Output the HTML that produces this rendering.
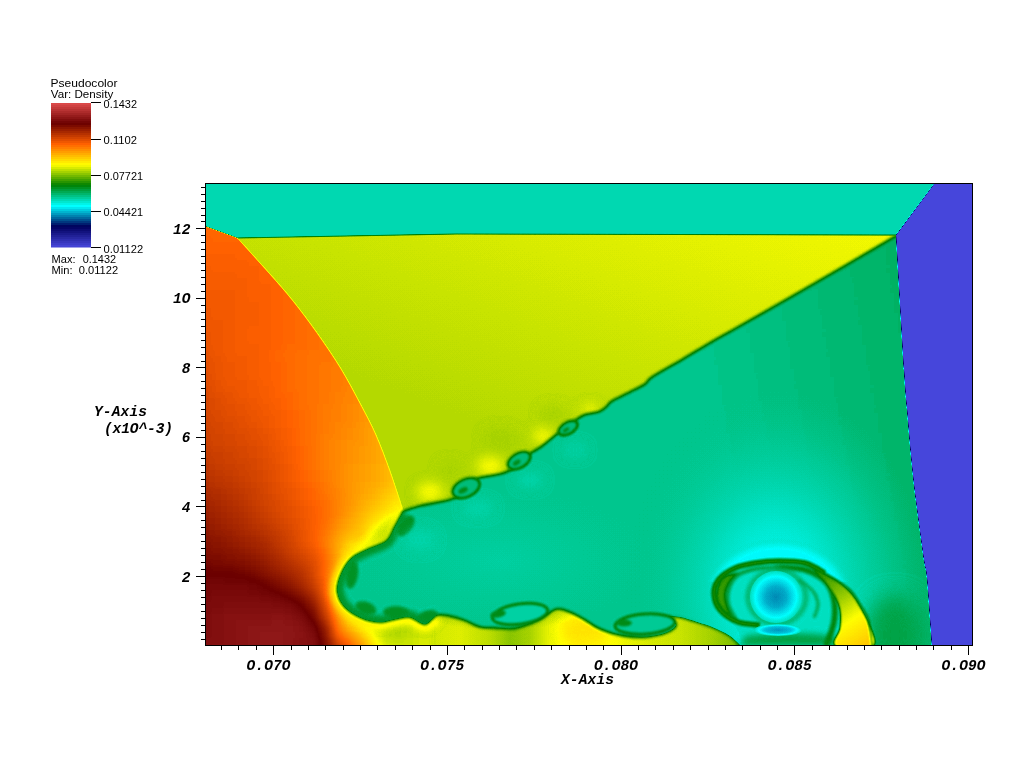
<!DOCTYPE html><html><head><meta charset="utf-8"><style>html,body{margin:0;padding:0;background:#fff;width:1024px;height:760px;overflow:hidden}svg{display:block}</style></head><body>
<svg width="1024" height="760" viewBox="0 0 1024 760">
<defs>
<linearGradient id="cbar" x1="0" y1="0" x2="0" y2="1"><stop offset="0.0000" stop-color="#da4949"/><stop offset="0.0139" stop-color="#da4949"/><stop offset="0.0139" stop-color="#cf4242"/><stop offset="0.0278" stop-color="#cf4242"/><stop offset="0.0278" stop-color="#c43a3a"/><stop offset="0.0417" stop-color="#c43a3a"/><stop offset="0.0417" stop-color="#b83333"/><stop offset="0.0556" stop-color="#b83333"/><stop offset="0.0556" stop-color="#ad2b2b"/><stop offset="0.0694" stop-color="#ad2b2b"/><stop offset="0.0694" stop-color="#a22424"/><stop offset="0.0833" stop-color="#a22424"/><stop offset="0.0833" stop-color="#961c1c"/><stop offset="0.0972" stop-color="#961c1c"/><stop offset="0.0972" stop-color="#8b1515"/><stop offset="0.1111" stop-color="#8b1515"/><stop offset="0.1111" stop-color="#7f0d0d"/><stop offset="0.1250" stop-color="#7f0d0d"/><stop offset="0.1250" stop-color="#740606"/><stop offset="0.1389" stop-color="#740606"/><stop offset="0.1389" stop-color="#6e0200"/><stop offset="0.1528" stop-color="#6e0200"/><stop offset="0.1528" stop-color="#7c0b00"/><stop offset="0.1667" stop-color="#7c0b00"/><stop offset="0.1667" stop-color="#8b1500"/><stop offset="0.1806" stop-color="#8b1500"/><stop offset="0.1806" stop-color="#991e00"/><stop offset="0.1944" stop-color="#991e00"/><stop offset="0.1944" stop-color="#a72800"/><stop offset="0.2083" stop-color="#a72800"/><stop offset="0.2083" stop-color="#b63100"/><stop offset="0.2222" stop-color="#b63100"/><stop offset="0.2222" stop-color="#c43a00"/><stop offset="0.2361" stop-color="#c43a00"/><stop offset="0.2361" stop-color="#d34400"/><stop offset="0.2500" stop-color="#d34400"/><stop offset="0.2500" stop-color="#e14d00"/><stop offset="0.2639" stop-color="#e14d00"/><stop offset="0.2639" stop-color="#ef5700"/><stop offset="0.2778" stop-color="#ef5700"/><stop offset="0.2778" stop-color="#fe6000"/><stop offset="0.2917" stop-color="#fe6000"/><stop offset="0.2917" stop-color="#ff6f00"/><stop offset="0.3056" stop-color="#ff6f00"/><stop offset="0.3056" stop-color="#ff7e00"/><stop offset="0.3194" stop-color="#ff7e00"/><stop offset="0.3194" stop-color="#ff8e00"/><stop offset="0.3333" stop-color="#ff8e00"/><stop offset="0.3333" stop-color="#ff9d00"/><stop offset="0.3472" stop-color="#ff9d00"/><stop offset="0.3472" stop-color="#ffac00"/><stop offset="0.3611" stop-color="#ffac00"/><stop offset="0.3611" stop-color="#ffbc00"/><stop offset="0.3750" stop-color="#ffbc00"/><stop offset="0.3750" stop-color="#ffcb00"/><stop offset="0.3889" stop-color="#ffcb00"/><stop offset="0.3889" stop-color="#ffda00"/><stop offset="0.4028" stop-color="#ffda00"/><stop offset="0.4028" stop-color="#ffea00"/><stop offset="0.4167" stop-color="#ffea00"/><stop offset="0.4167" stop-color="#fff900"/><stop offset="0.4306" stop-color="#fff900"/><stop offset="0.4306" stop-color="#f0f700"/><stop offset="0.4444" stop-color="#f0f700"/><stop offset="0.4444" stop-color="#d7eb00"/><stop offset="0.4583" stop-color="#d7eb00"/><stop offset="0.4583" stop-color="#bedf00"/><stop offset="0.4722" stop-color="#bedf00"/><stop offset="0.4722" stop-color="#a5d200"/><stop offset="0.4861" stop-color="#a5d200"/><stop offset="0.4861" stop-color="#8cc600"/><stop offset="0.5000" stop-color="#8cc600"/><stop offset="0.5000" stop-color="#73b900"/><stop offset="0.5139" stop-color="#73b900"/><stop offset="0.5139" stop-color="#5aad00"/><stop offset="0.5278" stop-color="#5aad00"/><stop offset="0.5278" stop-color="#41a000"/><stop offset="0.5417" stop-color="#41a000"/><stop offset="0.5417" stop-color="#289400"/><stop offset="0.5556" stop-color="#289400"/><stop offset="0.5556" stop-color="#0f8800"/><stop offset="0.5694" stop-color="#0f8800"/><stop offset="0.5694" stop-color="#00850a"/><stop offset="0.5833" stop-color="#00850a"/><stop offset="0.5833" stop-color="#009122"/><stop offset="0.5972" stop-color="#009122"/><stop offset="0.5972" stop-color="#009d3b"/><stop offset="0.6111" stop-color="#009d3b"/><stop offset="0.6111" stop-color="#00aa53"/><stop offset="0.6250" stop-color="#00aa53"/><stop offset="0.6250" stop-color="#00b66c"/><stop offset="0.6389" stop-color="#00b66c"/><stop offset="0.6389" stop-color="#00c285"/><stop offset="0.6528" stop-color="#00c285"/><stop offset="0.6528" stop-color="#00ce9d"/><stop offset="0.6667" stop-color="#00ce9d"/><stop offset="0.6667" stop-color="#00dab6"/><stop offset="0.6806" stop-color="#00dab6"/><stop offset="0.6806" stop-color="#00e7ce"/><stop offset="0.6944" stop-color="#00e7ce"/><stop offset="0.6944" stop-color="#00f3e7"/><stop offset="0.7083" stop-color="#00f3e7"/><stop offset="0.7083" stop-color="#00ffff"/><stop offset="0.7222" stop-color="#00ffff"/><stop offset="0.7222" stop-color="#00e6ef"/><stop offset="0.7361" stop-color="#00e6ef"/><stop offset="0.7361" stop-color="#00cddf"/><stop offset="0.7500" stop-color="#00cddf"/><stop offset="0.7500" stop-color="#00b4cf"/><stop offset="0.7639" stop-color="#00b4cf"/><stop offset="0.7639" stop-color="#009bbf"/><stop offset="0.7778" stop-color="#009bbf"/><stop offset="0.7778" stop-color="#0082af"/><stop offset="0.7917" stop-color="#0082af"/><stop offset="0.7917" stop-color="#00699f"/><stop offset="0.8056" stop-color="#00699f"/><stop offset="0.8056" stop-color="#00508f"/><stop offset="0.8194" stop-color="#00508f"/><stop offset="0.8194" stop-color="#00377f"/><stop offset="0.8333" stop-color="#00377f"/><stop offset="0.8333" stop-color="#001e6f"/><stop offset="0.8472" stop-color="#001e6f"/><stop offset="0.8472" stop-color="#00055f"/><stop offset="0.8611" stop-color="#00055f"/><stop offset="0.8611" stop-color="#050566"/><stop offset="0.8750" stop-color="#050566"/><stop offset="0.8750" stop-color="#0c0c72"/><stop offset="0.8889" stop-color="#0c0c72"/><stop offset="0.8889" stop-color="#13137e"/><stop offset="0.9028" stop-color="#13137e"/><stop offset="0.9028" stop-color="#1a1a8b"/><stop offset="0.9167" stop-color="#1a1a8b"/><stop offset="0.9167" stop-color="#212197"/><stop offset="0.9306" stop-color="#212197"/><stop offset="0.9306" stop-color="#2828a3"/><stop offset="0.9444" stop-color="#2828a3"/><stop offset="0.9444" stop-color="#2f2fb0"/><stop offset="0.9583" stop-color="#2f2fb0"/><stop offset="0.9583" stop-color="#3636bc"/><stop offset="0.9722" stop-color="#3636bc"/><stop offset="0.9722" stop-color="#3d3dc8"/><stop offset="0.9861" stop-color="#3d3dc8"/><stop offset="0.9861" stop-color="#4444d5"/><stop offset="1.0000" stop-color="#4444d5"/></linearGradient>
<clipPath id="plot"><rect x="206" y="184" width="766" height="461"/></clipPath>
<filter id="b05" color-interpolation-filters="sRGB" x="-50%" y="-50%" width="200%" height="200%"><feGaussianBlur stdDeviation="0.5"/></filter>
<filter id="b1" color-interpolation-filters="sRGB" x="-50%" y="-50%" width="200%" height="200%"><feGaussianBlur stdDeviation="1"/></filter>
<filter id="b15" color-interpolation-filters="sRGB" x="-50%" y="-50%" width="200%" height="200%"><feGaussianBlur stdDeviation="1.5"/></filter>
<filter id="b2" color-interpolation-filters="sRGB" x="-50%" y="-50%" width="200%" height="200%"><feGaussianBlur stdDeviation="2"/></filter>
<filter id="b3" color-interpolation-filters="sRGB" x="-50%" y="-50%" width="200%" height="200%"><feGaussianBlur stdDeviation="3"/></filter>
<filter id="b4" color-interpolation-filters="sRGB" x="-50%" y="-50%" width="200%" height="200%"><feGaussianBlur stdDeviation="4"/></filter>
<filter id="b6" color-interpolation-filters="sRGB" x="-50%" y="-50%" width="200%" height="200%"><feGaussianBlur stdDeviation="6"/></filter>
<filter id="b10" color-interpolation-filters="sRGB" x="-50%" y="-50%" width="200%" height="200%"><feGaussianBlur stdDeviation="10"/></filter>
<filter id="cm" color-interpolation-filters="sRGB" x="0" y="0" width="1024" height="760" filterUnits="userSpaceOnUse"><feComponentTransfer><feFuncR type="table" tableValues="0.278431 0 0 0 1 1 0.419608 0.878431"/><feFuncG type="table" tableValues="0.278431 0 1 0.501961 1 0.380392 0 0.301961"/><feFuncB type="table" tableValues="0.858824 0.360784 1 0 0 0 0 0.301961"/></feComponentTransfer></filter>
<linearGradient id="gy" gradientUnits="userSpaceOnUse" x1="482.5" y1="425.1" x2="614.1" y2="86.3"><stop offset="0" stop-color="#878787"/><stop offset="1" stop-color="#919191"/></linearGradient>
<linearGradient id="gg" gradientUnits="userSpaceOnUse" x1="910" y1="340" x2="690" y2="380"><stop offset="0" stop-color="#5f5f5f"/><stop offset="1" stop-color="#595959"/></linearGradient>
<radialGradient id="ghalo" gradientUnits="userSpaceOnUse" cx="0" cy="0" r="1" gradientTransform="translate(776 590) rotate(0) scale(150 200)"><stop offset="0" stop-color="#4a4a4a" stop-opacity="1"/><stop offset="0.3" stop-color="#4f4f4f" stop-opacity="1"/><stop offset="0.5" stop-color="#545454" stop-opacity="1"/><stop offset="0.7" stop-color="#575757" stop-opacity="0.8"/><stop offset="0.9" stop-color="#595959" stop-opacity="0.3"/><stop offset="1" stop-color="#5a5a5a" stop-opacity="0"/></radialGradient>
<radialGradient id="gdome" gradientUnits="userSpaceOnUse" cx="0" cy="0" r="1" gradientTransform="translate(778 598) rotate(0) scale(76 60)"><stop offset="0" stop-color="#484848" stop-opacity="1"/><stop offset="0.8" stop-color="#484848" stop-opacity="1"/><stop offset="0.88" stop-color="#4b4b4b" stop-opacity="0.7"/><stop offset="0.95" stop-color="#505050" stop-opacity="0.3"/><stop offset="1" stop-color="#545454" stop-opacity="0"/></radialGradient>
<radialGradient id="gblob" gradientUnits="userSpaceOnUse" cx="0" cy="0" r="1" gradientTransform="translate(500 560) rotate(0) scale(150 70)"><stop offset="0" stop-color="#565656" stop-opacity="0.9"/><stop offset="1" stop-color="#575757" stop-opacity="0"/></radialGradient>
<radialGradient id="gcore" gradientUnits="userSpaceOnUse" cx="0" cy="0" r="1" gradientTransform="translate(776 597) rotate(0) scale(26 26)"><stop offset="0" stop-color="#383838"/><stop offset="0.4" stop-color="#3d3d3d"/><stop offset="0.7" stop-color="#464646"/><stop offset="0.8" stop-color="#494949"/><stop offset="0.9" stop-color="#4e4e4e"/><stop offset="1" stop-color="#525252"/></radialGradient>
<radialGradient id="glens" gradientUnits="userSpaceOnUse" cx="0" cy="0" r="1" gradientTransform="translate(778 630) rotate(0) scale(24 6)"><stop offset="0" stop-color="#3a3a3a"/><stop offset="0.55" stop-color="#404040"/><stop offset="0.8" stop-color="#494949"/><stop offset="1" stop-color="#545454"/></radialGradient>
<linearGradient id="gcres" gradientUnits="userSpaceOnUse" x1="825" y1="578" x2="868" y2="642"><stop offset="0" stop-color="#767676"/><stop offset="0.35" stop-color="#848484"/><stop offset="0.65" stop-color="#929292"/><stop offset="1" stop-color="#9e9e9e"/></linearGradient>
<linearGradient id="gbot" gradientUnits="userSpaceOnUse" x1="360" y1="0" x2="740" y2="0"><stop offset="0" stop-color="#969696"/><stop offset="0.053" stop-color="#929292"/><stop offset="0.105" stop-color="#8d8d8d"/><stop offset="0.184" stop-color="#8b8b8b"/><stop offset="0.263" stop-color="#8d8d8d"/><stop offset="0.342" stop-color="#888888"/><stop offset="0.395" stop-color="#818181"/><stop offset="0.447" stop-color="#858585"/><stop offset="0.5" stop-color="#8f8f8f"/><stop offset="0.566" stop-color="#969696"/><stop offset="0.632" stop-color="#959595"/><stop offset="0.697" stop-color="#8f8f8f"/><stop offset="0.763" stop-color="#8c8c8c"/><stop offset="0.842" stop-color="#8a8a8a"/><stop offset="0.921" stop-color="#858585"/><stop offset="1" stop-color="#7e7e7e"/></linearGradient>
<linearGradient id="o0" gradientUnits="userSpaceOnUse" x1="206" x2="432" y1="0" y2="0"><stop offset="0.000" stop-color="#b5b5b5"/><stop offset="0.053" stop-color="#b5b5b5"/><stop offset="0.106" stop-color="#b5b5b5"/><stop offset="0.159" stop-color="#b5b5b5"/><stop offset="0.212" stop-color="#b5b5b5"/><stop offset="0.265" stop-color="#b4b4b4"/><stop offset="0.319" stop-color="#b4b4b4"/><stop offset="0.372" stop-color="#b4b4b4"/><stop offset="0.425" stop-color="#b3b3b3"/><stop offset="0.478" stop-color="#b2b2b2"/><stop offset="0.531" stop-color="#b1b1b1"/><stop offset="0.584" stop-color="#b0b0b0"/><stop offset="0.637" stop-color="#afafaf"/><stop offset="0.690" stop-color="#adadad"/><stop offset="0.743" stop-color="#ababab"/><stop offset="0.796" stop-color="#aaaaaa"/><stop offset="0.850" stop-color="#a8a8a8"/><stop offset="0.903" stop-color="#a6a6a6"/><stop offset="0.956" stop-color="#a4a4a4"/></linearGradient>
<linearGradient id="o1" gradientUnits="userSpaceOnUse" x1="206" x2="432" y1="0" y2="0"><stop offset="0.000" stop-color="#b5b5b5"/><stop offset="0.053" stop-color="#b5b5b5"/><stop offset="0.106" stop-color="#b5b5b5"/><stop offset="0.159" stop-color="#b5b5b5"/><stop offset="0.212" stop-color="#b5b5b5"/><stop offset="0.265" stop-color="#b5b5b5"/><stop offset="0.319" stop-color="#b5b5b5"/><stop offset="0.372" stop-color="#b4b4b4"/><stop offset="0.425" stop-color="#b4b4b4"/><stop offset="0.478" stop-color="#b3b3b3"/><stop offset="0.531" stop-color="#b2b2b2"/><stop offset="0.584" stop-color="#b0b0b0"/><stop offset="0.637" stop-color="#afafaf"/><stop offset="0.690" stop-color="#adadad"/><stop offset="0.743" stop-color="#acacac"/><stop offset="0.796" stop-color="#aaaaaa"/><stop offset="0.850" stop-color="#a8a8a8"/><stop offset="0.903" stop-color="#a6a6a6"/><stop offset="0.956" stop-color="#a4a4a4"/></linearGradient>
<linearGradient id="o2" gradientUnits="userSpaceOnUse" x1="206" x2="432" y1="0" y2="0"><stop offset="0.000" stop-color="#b6b6b6"/><stop offset="0.053" stop-color="#b5b5b5"/><stop offset="0.106" stop-color="#b5b5b5"/><stop offset="0.159" stop-color="#b5b5b5"/><stop offset="0.212" stop-color="#b5b5b5"/><stop offset="0.265" stop-color="#b5b5b5"/><stop offset="0.319" stop-color="#b5b5b5"/><stop offset="0.372" stop-color="#b4b4b4"/><stop offset="0.425" stop-color="#b4b4b4"/><stop offset="0.478" stop-color="#b3b3b3"/><stop offset="0.531" stop-color="#b2b2b2"/><stop offset="0.584" stop-color="#b0b0b0"/><stop offset="0.637" stop-color="#afafaf"/><stop offset="0.690" stop-color="#adadad"/><stop offset="0.743" stop-color="#acacac"/><stop offset="0.796" stop-color="#aaaaaa"/><stop offset="0.850" stop-color="#a8a8a8"/><stop offset="0.903" stop-color="#a6a6a6"/><stop offset="0.956" stop-color="#a4a4a4"/></linearGradient>
<linearGradient id="o3" gradientUnits="userSpaceOnUse" x1="206" x2="432" y1="0" y2="0"><stop offset="0.000" stop-color="#b6b6b6"/><stop offset="0.053" stop-color="#b6b6b6"/><stop offset="0.106" stop-color="#b6b6b6"/><stop offset="0.159" stop-color="#b6b6b6"/><stop offset="0.212" stop-color="#b6b6b6"/><stop offset="0.265" stop-color="#b5b5b5"/><stop offset="0.319" stop-color="#b5b5b5"/><stop offset="0.372" stop-color="#b5b5b5"/><stop offset="0.425" stop-color="#b4b4b4"/><stop offset="0.478" stop-color="#b3b3b3"/><stop offset="0.531" stop-color="#b2b2b2"/><stop offset="0.584" stop-color="#b1b1b1"/><stop offset="0.637" stop-color="#afafaf"/><stop offset="0.690" stop-color="#aeaeae"/><stop offset="0.743" stop-color="#acacac"/><stop offset="0.796" stop-color="#aaaaaa"/><stop offset="0.850" stop-color="#a8a8a8"/><stop offset="0.903" stop-color="#a6a6a6"/><stop offset="0.956" stop-color="#a4a4a4"/></linearGradient>
<linearGradient id="o4" gradientUnits="userSpaceOnUse" x1="206" x2="432" y1="0" y2="0"><stop offset="0.000" stop-color="#b6b6b6"/><stop offset="0.053" stop-color="#b6b6b6"/><stop offset="0.106" stop-color="#b6b6b6"/><stop offset="0.159" stop-color="#b6b6b6"/><stop offset="0.212" stop-color="#b6b6b6"/><stop offset="0.265" stop-color="#b6b6b6"/><stop offset="0.319" stop-color="#b5b5b5"/><stop offset="0.372" stop-color="#b5b5b5"/><stop offset="0.425" stop-color="#b4b4b4"/><stop offset="0.478" stop-color="#b3b3b3"/><stop offset="0.531" stop-color="#b2b2b2"/><stop offset="0.584" stop-color="#b1b1b1"/><stop offset="0.637" stop-color="#afafaf"/><stop offset="0.690" stop-color="#aeaeae"/><stop offset="0.743" stop-color="#acacac"/><stop offset="0.796" stop-color="#aaaaaa"/><stop offset="0.850" stop-color="#a8a8a8"/><stop offset="0.903" stop-color="#a6a6a6"/><stop offset="0.956" stop-color="#a4a4a4"/></linearGradient>
<linearGradient id="o5" gradientUnits="userSpaceOnUse" x1="206" x2="432" y1="0" y2="0"><stop offset="0.000" stop-color="#b7b7b7"/><stop offset="0.053" stop-color="#b7b7b7"/><stop offset="0.106" stop-color="#b7b7b7"/><stop offset="0.159" stop-color="#b6b6b6"/><stop offset="0.212" stop-color="#b6b6b6"/><stop offset="0.265" stop-color="#b6b6b6"/><stop offset="0.319" stop-color="#b5b5b5"/><stop offset="0.372" stop-color="#b5b5b5"/><stop offset="0.425" stop-color="#b4b4b4"/><stop offset="0.478" stop-color="#b3b3b3"/><stop offset="0.531" stop-color="#b2b2b2"/><stop offset="0.584" stop-color="#b1b1b1"/><stop offset="0.637" stop-color="#b0b0b0"/><stop offset="0.690" stop-color="#aeaeae"/><stop offset="0.743" stop-color="#acacac"/><stop offset="0.796" stop-color="#aaaaaa"/><stop offset="0.850" stop-color="#a9a9a9"/><stop offset="0.903" stop-color="#a6a6a6"/><stop offset="0.956" stop-color="#a4a4a4"/></linearGradient>
<linearGradient id="o6" gradientUnits="userSpaceOnUse" x1="206" x2="432" y1="0" y2="0"><stop offset="0.000" stop-color="#b7b7b7"/><stop offset="0.053" stop-color="#b7b7b7"/><stop offset="0.106" stop-color="#b7b7b7"/><stop offset="0.159" stop-color="#b7b7b7"/><stop offset="0.212" stop-color="#b6b6b6"/><stop offset="0.265" stop-color="#b6b6b6"/><stop offset="0.319" stop-color="#b6b6b6"/><stop offset="0.372" stop-color="#b5b5b5"/><stop offset="0.425" stop-color="#b4b4b4"/><stop offset="0.478" stop-color="#b3b3b3"/><stop offset="0.531" stop-color="#b2b2b2"/><stop offset="0.584" stop-color="#b1b1b1"/><stop offset="0.637" stop-color="#b0b0b0"/><stop offset="0.690" stop-color="#aeaeae"/><stop offset="0.743" stop-color="#acacac"/><stop offset="0.796" stop-color="#ababab"/><stop offset="0.850" stop-color="#a9a9a9"/><stop offset="0.903" stop-color="#a6a6a6"/><stop offset="0.956" stop-color="#a4a4a4"/></linearGradient>
<linearGradient id="o7" gradientUnits="userSpaceOnUse" x1="206" x2="432" y1="0" y2="0"><stop offset="0.000" stop-color="#b8b8b8"/><stop offset="0.053" stop-color="#b7b7b7"/><stop offset="0.106" stop-color="#b7b7b7"/><stop offset="0.159" stop-color="#b7b7b7"/><stop offset="0.212" stop-color="#b7b7b7"/><stop offset="0.265" stop-color="#b6b6b6"/><stop offset="0.319" stop-color="#b6b6b6"/><stop offset="0.372" stop-color="#b5b5b5"/><stop offset="0.425" stop-color="#b4b4b4"/><stop offset="0.478" stop-color="#b3b3b3"/><stop offset="0.531" stop-color="#b2b2b2"/><stop offset="0.584" stop-color="#b1b1b1"/><stop offset="0.637" stop-color="#b0b0b0"/><stop offset="0.690" stop-color="#aeaeae"/><stop offset="0.743" stop-color="#adadad"/><stop offset="0.796" stop-color="#ababab"/><stop offset="0.850" stop-color="#a9a9a9"/><stop offset="0.903" stop-color="#a7a7a7"/><stop offset="0.956" stop-color="#a4a4a4"/></linearGradient>
<linearGradient id="o8" gradientUnits="userSpaceOnUse" x1="206" x2="432" y1="0" y2="0"><stop offset="0.000" stop-color="#b8b8b8"/><stop offset="0.053" stop-color="#b8b8b8"/><stop offset="0.106" stop-color="#b8b8b8"/><stop offset="0.159" stop-color="#b7b7b7"/><stop offset="0.212" stop-color="#b7b7b7"/><stop offset="0.265" stop-color="#b6b6b6"/><stop offset="0.319" stop-color="#b6b6b6"/><stop offset="0.372" stop-color="#b5b5b5"/><stop offset="0.425" stop-color="#b4b4b4"/><stop offset="0.478" stop-color="#b3b3b3"/><stop offset="0.531" stop-color="#b2b2b2"/><stop offset="0.584" stop-color="#b1b1b1"/><stop offset="0.637" stop-color="#b0b0b0"/><stop offset="0.690" stop-color="#aeaeae"/><stop offset="0.743" stop-color="#adadad"/><stop offset="0.796" stop-color="#ababab"/><stop offset="0.850" stop-color="#a9a9a9"/><stop offset="0.903" stop-color="#a7a7a7"/><stop offset="0.956" stop-color="#a4a4a4"/></linearGradient>
<linearGradient id="o9" gradientUnits="userSpaceOnUse" x1="206" x2="432" y1="0" y2="0"><stop offset="0.000" stop-color="#b8b8b8"/><stop offset="0.053" stop-color="#b8b8b8"/><stop offset="0.106" stop-color="#b8b8b8"/><stop offset="0.159" stop-color="#b8b8b8"/><stop offset="0.212" stop-color="#b7b7b7"/><stop offset="0.265" stop-color="#b6b6b6"/><stop offset="0.319" stop-color="#b6b6b6"/><stop offset="0.372" stop-color="#b5b5b5"/><stop offset="0.425" stop-color="#b4b4b4"/><stop offset="0.478" stop-color="#b3b3b3"/><stop offset="0.531" stop-color="#b2b2b2"/><stop offset="0.584" stop-color="#b1b1b1"/><stop offset="0.637" stop-color="#b0b0b0"/><stop offset="0.690" stop-color="#aeaeae"/><stop offset="0.743" stop-color="#adadad"/><stop offset="0.796" stop-color="#ababab"/><stop offset="0.850" stop-color="#a9a9a9"/><stop offset="0.903" stop-color="#a7a7a7"/><stop offset="0.956" stop-color="#a4a4a4"/></linearGradient>
<linearGradient id="o10" gradientUnits="userSpaceOnUse" x1="206" x2="432" y1="0" y2="0"><stop offset="0.000" stop-color="#b8b8b8"/><stop offset="0.053" stop-color="#b8b8b8"/><stop offset="0.106" stop-color="#b8b8b8"/><stop offset="0.159" stop-color="#b8b8b8"/><stop offset="0.212" stop-color="#b7b7b7"/><stop offset="0.265" stop-color="#b7b7b7"/><stop offset="0.319" stop-color="#b6b6b6"/><stop offset="0.372" stop-color="#b5b5b5"/><stop offset="0.425" stop-color="#b4b4b4"/><stop offset="0.478" stop-color="#b3b3b3"/><stop offset="0.531" stop-color="#b2b2b2"/><stop offset="0.584" stop-color="#b1b1b1"/><stop offset="0.637" stop-color="#b0b0b0"/><stop offset="0.690" stop-color="#afafaf"/><stop offset="0.743" stop-color="#adadad"/><stop offset="0.796" stop-color="#ababab"/><stop offset="0.850" stop-color="#a9a9a9"/><stop offset="0.903" stop-color="#a7a7a7"/><stop offset="0.956" stop-color="#a4a4a4"/></linearGradient>
<linearGradient id="o11" gradientUnits="userSpaceOnUse" x1="206" x2="432" y1="0" y2="0"><stop offset="0.000" stop-color="#b9b9b9"/><stop offset="0.053" stop-color="#b9b9b9"/><stop offset="0.106" stop-color="#b9b9b9"/><stop offset="0.159" stop-color="#b8b8b8"/><stop offset="0.212" stop-color="#b7b7b7"/><stop offset="0.265" stop-color="#b7b7b7"/><stop offset="0.319" stop-color="#b6b6b6"/><stop offset="0.372" stop-color="#b5b5b5"/><stop offset="0.425" stop-color="#b4b4b4"/><stop offset="0.478" stop-color="#b3b3b3"/><stop offset="0.531" stop-color="#b2b2b2"/><stop offset="0.584" stop-color="#b1b1b1"/><stop offset="0.637" stop-color="#b0b0b0"/><stop offset="0.690" stop-color="#afafaf"/><stop offset="0.743" stop-color="#adadad"/><stop offset="0.796" stop-color="#ababab"/><stop offset="0.850" stop-color="#a9a9a9"/><stop offset="0.903" stop-color="#a7a7a7"/><stop offset="0.956" stop-color="#a4a4a4"/></linearGradient>
<linearGradient id="o12" gradientUnits="userSpaceOnUse" x1="206" x2="432" y1="0" y2="0"><stop offset="0.000" stop-color="#b9b9b9"/><stop offset="0.053" stop-color="#b9b9b9"/><stop offset="0.106" stop-color="#b9b9b9"/><stop offset="0.159" stop-color="#b8b8b8"/><stop offset="0.212" stop-color="#b7b7b7"/><stop offset="0.265" stop-color="#b7b7b7"/><stop offset="0.319" stop-color="#b6b6b6"/><stop offset="0.372" stop-color="#b5b5b5"/><stop offset="0.425" stop-color="#b4b4b4"/><stop offset="0.478" stop-color="#b3b3b3"/><stop offset="0.531" stop-color="#b2b2b2"/><stop offset="0.584" stop-color="#b1b1b1"/><stop offset="0.637" stop-color="#b0b0b0"/><stop offset="0.690" stop-color="#afafaf"/><stop offset="0.743" stop-color="#adadad"/><stop offset="0.796" stop-color="#ababab"/><stop offset="0.850" stop-color="#a9a9a9"/><stop offset="0.903" stop-color="#a7a7a7"/><stop offset="0.956" stop-color="#a4a4a4"/></linearGradient>
<linearGradient id="o13" gradientUnits="userSpaceOnUse" x1="206" x2="432" y1="0" y2="0"><stop offset="0.000" stop-color="#b9b9b9"/><stop offset="0.053" stop-color="#b9b9b9"/><stop offset="0.106" stop-color="#b9b9b9"/><stop offset="0.159" stop-color="#b8b8b8"/><stop offset="0.212" stop-color="#b8b8b8"/><stop offset="0.265" stop-color="#b7b7b7"/><stop offset="0.319" stop-color="#b6b6b6"/><stop offset="0.372" stop-color="#b5b5b5"/><stop offset="0.425" stop-color="#b4b4b4"/><stop offset="0.478" stop-color="#b3b3b3"/><stop offset="0.531" stop-color="#b2b2b2"/><stop offset="0.584" stop-color="#b1b1b1"/><stop offset="0.637" stop-color="#b0b0b0"/><stop offset="0.690" stop-color="#afafaf"/><stop offset="0.743" stop-color="#adadad"/><stop offset="0.796" stop-color="#ababab"/><stop offset="0.850" stop-color="#a9a9a9"/><stop offset="0.903" stop-color="#a6a6a6"/><stop offset="0.956" stop-color="#a4a4a4"/></linearGradient>
<linearGradient id="o14" gradientUnits="userSpaceOnUse" x1="206" x2="432" y1="0" y2="0"><stop offset="0.000" stop-color="#bababa"/><stop offset="0.053" stop-color="#b9b9b9"/><stop offset="0.106" stop-color="#b9b9b9"/><stop offset="0.159" stop-color="#b8b8b8"/><stop offset="0.212" stop-color="#b8b8b8"/><stop offset="0.265" stop-color="#b7b7b7"/><stop offset="0.319" stop-color="#b6b6b6"/><stop offset="0.372" stop-color="#b5b5b5"/><stop offset="0.425" stop-color="#b4b4b4"/><stop offset="0.478" stop-color="#b3b3b3"/><stop offset="0.531" stop-color="#b2b2b2"/><stop offset="0.584" stop-color="#b1b1b1"/><stop offset="0.637" stop-color="#b0b0b0"/><stop offset="0.690" stop-color="#afafaf"/><stop offset="0.743" stop-color="#adadad"/><stop offset="0.796" stop-color="#ababab"/><stop offset="0.850" stop-color="#a9a9a9"/><stop offset="0.903" stop-color="#a6a6a6"/><stop offset="0.956" stop-color="#a4a4a4"/></linearGradient>
<linearGradient id="o15" gradientUnits="userSpaceOnUse" x1="206" x2="432" y1="0" y2="0"><stop offset="0.000" stop-color="#bababa"/><stop offset="0.053" stop-color="#b9b9b9"/><stop offset="0.106" stop-color="#b9b9b9"/><stop offset="0.159" stop-color="#b8b8b8"/><stop offset="0.212" stop-color="#b8b8b8"/><stop offset="0.265" stop-color="#b7b7b7"/><stop offset="0.319" stop-color="#b6b6b6"/><stop offset="0.372" stop-color="#b5b5b5"/><stop offset="0.425" stop-color="#b4b4b4"/><stop offset="0.478" stop-color="#b3b3b3"/><stop offset="0.531" stop-color="#b2b2b2"/><stop offset="0.584" stop-color="#b1b1b1"/><stop offset="0.637" stop-color="#b0b0b0"/><stop offset="0.690" stop-color="#afafaf"/><stop offset="0.743" stop-color="#adadad"/><stop offset="0.796" stop-color="#ababab"/><stop offset="0.850" stop-color="#a9a9a9"/><stop offset="0.903" stop-color="#a6a6a6"/><stop offset="0.956" stop-color="#a4a4a4"/></linearGradient>
<linearGradient id="o16" gradientUnits="userSpaceOnUse" x1="206" x2="432" y1="0" y2="0"><stop offset="0.000" stop-color="#bababa"/><stop offset="0.053" stop-color="#bababa"/><stop offset="0.106" stop-color="#b9b9b9"/><stop offset="0.159" stop-color="#b8b8b8"/><stop offset="0.212" stop-color="#b8b8b8"/><stop offset="0.265" stop-color="#b7b7b7"/><stop offset="0.319" stop-color="#b6b6b6"/><stop offset="0.372" stop-color="#b5b5b5"/><stop offset="0.425" stop-color="#b4b4b4"/><stop offset="0.478" stop-color="#b3b3b3"/><stop offset="0.531" stop-color="#b2b2b2"/><stop offset="0.584" stop-color="#b1b1b1"/><stop offset="0.637" stop-color="#b0b0b0"/><stop offset="0.690" stop-color="#afafaf"/><stop offset="0.743" stop-color="#adadad"/><stop offset="0.796" stop-color="#ababab"/><stop offset="0.850" stop-color="#a9a9a9"/><stop offset="0.903" stop-color="#a6a6a6"/><stop offset="0.956" stop-color="#a3a3a3"/></linearGradient>
<linearGradient id="o17" gradientUnits="userSpaceOnUse" x1="206" x2="432" y1="0" y2="0"><stop offset="0.000" stop-color="#bababa"/><stop offset="0.053" stop-color="#bababa"/><stop offset="0.106" stop-color="#b9b9b9"/><stop offset="0.159" stop-color="#b8b8b8"/><stop offset="0.212" stop-color="#b7b7b7"/><stop offset="0.265" stop-color="#b7b7b7"/><stop offset="0.319" stop-color="#b6b6b6"/><stop offset="0.372" stop-color="#b5b5b5"/><stop offset="0.425" stop-color="#b4b4b4"/><stop offset="0.478" stop-color="#b3b3b3"/><stop offset="0.531" stop-color="#b2b2b2"/><stop offset="0.584" stop-color="#b1b1b1"/><stop offset="0.637" stop-color="#b0b0b0"/><stop offset="0.690" stop-color="#afafaf"/><stop offset="0.743" stop-color="#adadad"/><stop offset="0.796" stop-color="#ababab"/><stop offset="0.850" stop-color="#a8a8a8"/><stop offset="0.903" stop-color="#a6a6a6"/><stop offset="0.956" stop-color="#a3a3a3"/></linearGradient>
<linearGradient id="o18" gradientUnits="userSpaceOnUse" x1="206" x2="432" y1="0" y2="0"><stop offset="0.000" stop-color="#bbbbbb"/><stop offset="0.053" stop-color="#bababa"/><stop offset="0.106" stop-color="#b9b9b9"/><stop offset="0.159" stop-color="#b8b8b8"/><stop offset="0.212" stop-color="#b7b7b7"/><stop offset="0.265" stop-color="#b7b7b7"/><stop offset="0.319" stop-color="#b6b6b6"/><stop offset="0.372" stop-color="#b5b5b5"/><stop offset="0.425" stop-color="#b4b4b4"/><stop offset="0.478" stop-color="#b3b3b3"/><stop offset="0.531" stop-color="#b2b2b2"/><stop offset="0.584" stop-color="#b1b1b1"/><stop offset="0.637" stop-color="#b0b0b0"/><stop offset="0.690" stop-color="#afafaf"/><stop offset="0.743" stop-color="#adadad"/><stop offset="0.796" stop-color="#ababab"/><stop offset="0.850" stop-color="#a8a8a8"/><stop offset="0.903" stop-color="#a6a6a6"/><stop offset="0.956" stop-color="#a3a3a3"/></linearGradient>
<linearGradient id="o19" gradientUnits="userSpaceOnUse" x1="206" x2="432" y1="0" y2="0"><stop offset="0.000" stop-color="#bbbbbb"/><stop offset="0.053" stop-color="#bababa"/><stop offset="0.106" stop-color="#b9b9b9"/><stop offset="0.159" stop-color="#b8b8b8"/><stop offset="0.212" stop-color="#b7b7b7"/><stop offset="0.265" stop-color="#b7b7b7"/><stop offset="0.319" stop-color="#b6b6b6"/><stop offset="0.372" stop-color="#b5b5b5"/><stop offset="0.425" stop-color="#b4b4b4"/><stop offset="0.478" stop-color="#b3b3b3"/><stop offset="0.531" stop-color="#b2b2b2"/><stop offset="0.584" stop-color="#b1b1b1"/><stop offset="0.637" stop-color="#b0b0b0"/><stop offset="0.690" stop-color="#afafaf"/><stop offset="0.743" stop-color="#adadad"/><stop offset="0.796" stop-color="#ababab"/><stop offset="0.850" stop-color="#a8a8a8"/><stop offset="0.903" stop-color="#a5a5a5"/><stop offset="0.956" stop-color="#a3a3a3"/></linearGradient>
<linearGradient id="o20" gradientUnits="userSpaceOnUse" x1="206" x2="432" y1="0" y2="0"><stop offset="0.000" stop-color="#bbbbbb"/><stop offset="0.053" stop-color="#bababa"/><stop offset="0.106" stop-color="#b9b9b9"/><stop offset="0.159" stop-color="#b8b8b8"/><stop offset="0.212" stop-color="#b8b8b8"/><stop offset="0.265" stop-color="#b7b7b7"/><stop offset="0.319" stop-color="#b6b6b6"/><stop offset="0.372" stop-color="#b4b4b4"/><stop offset="0.425" stop-color="#b4b4b4"/><stop offset="0.478" stop-color="#b3b3b3"/><stop offset="0.531" stop-color="#b2b2b2"/><stop offset="0.584" stop-color="#b1b1b1"/><stop offset="0.637" stop-color="#b0b0b0"/><stop offset="0.690" stop-color="#aeaeae"/><stop offset="0.743" stop-color="#adadad"/><stop offset="0.796" stop-color="#aaaaaa"/><stop offset="0.850" stop-color="#a8a8a8"/><stop offset="0.903" stop-color="#a5a5a5"/><stop offset="0.956" stop-color="#a2a2a2"/></linearGradient>
<linearGradient id="o21" gradientUnits="userSpaceOnUse" x1="206" x2="432" y1="0" y2="0"><stop offset="0.000" stop-color="#bcbcbc"/><stop offset="0.053" stop-color="#bababa"/><stop offset="0.106" stop-color="#b9b9b9"/><stop offset="0.159" stop-color="#b8b8b8"/><stop offset="0.212" stop-color="#b8b8b8"/><stop offset="0.265" stop-color="#b7b7b7"/><stop offset="0.319" stop-color="#b5b5b5"/><stop offset="0.372" stop-color="#b4b4b4"/><stop offset="0.425" stop-color="#b3b3b3"/><stop offset="0.478" stop-color="#b2b2b2"/><stop offset="0.531" stop-color="#b2b2b2"/><stop offset="0.584" stop-color="#b1b1b1"/><stop offset="0.637" stop-color="#b0b0b0"/><stop offset="0.690" stop-color="#aeaeae"/><stop offset="0.743" stop-color="#acacac"/><stop offset="0.796" stop-color="#aaaaaa"/><stop offset="0.850" stop-color="#a8a8a8"/><stop offset="0.903" stop-color="#a5a5a5"/><stop offset="0.956" stop-color="#a2a2a2"/></linearGradient>
<linearGradient id="o22" gradientUnits="userSpaceOnUse" x1="206" x2="432" y1="0" y2="0"><stop offset="0.000" stop-color="#bcbcbc"/><stop offset="0.053" stop-color="#bbbbbb"/><stop offset="0.106" stop-color="#b9b9b9"/><stop offset="0.159" stop-color="#b9b9b9"/><stop offset="0.212" stop-color="#b8b8b8"/><stop offset="0.265" stop-color="#b7b7b7"/><stop offset="0.319" stop-color="#b5b5b5"/><stop offset="0.372" stop-color="#b4b4b4"/><stop offset="0.425" stop-color="#b3b3b3"/><stop offset="0.478" stop-color="#b2b2b2"/><stop offset="0.531" stop-color="#b2b2b2"/><stop offset="0.584" stop-color="#b1b1b1"/><stop offset="0.637" stop-color="#b0b0b0"/><stop offset="0.690" stop-color="#aeaeae"/><stop offset="0.743" stop-color="#acacac"/><stop offset="0.796" stop-color="#aaaaaa"/><stop offset="0.850" stop-color="#a7a7a7"/><stop offset="0.903" stop-color="#a4a4a4"/><stop offset="0.956" stop-color="#a1a1a1"/></linearGradient>
<linearGradient id="o23" gradientUnits="userSpaceOnUse" x1="206" x2="432" y1="0" y2="0"><stop offset="0.000" stop-color="#bdbdbd"/><stop offset="0.053" stop-color="#bbbbbb"/><stop offset="0.106" stop-color="#bababa"/><stop offset="0.159" stop-color="#b9b9b9"/><stop offset="0.212" stop-color="#b8b8b8"/><stop offset="0.265" stop-color="#b7b7b7"/><stop offset="0.319" stop-color="#b6b6b6"/><stop offset="0.372" stop-color="#b4b4b4"/><stop offset="0.425" stop-color="#b3b3b3"/><stop offset="0.478" stop-color="#b2b2b2"/><stop offset="0.531" stop-color="#b1b1b1"/><stop offset="0.584" stop-color="#b0b0b0"/><stop offset="0.637" stop-color="#afafaf"/><stop offset="0.690" stop-color="#aeaeae"/><stop offset="0.743" stop-color="#acacac"/><stop offset="0.796" stop-color="#aaaaaa"/><stop offset="0.850" stop-color="#a7a7a7"/><stop offset="0.903" stop-color="#a4a4a4"/><stop offset="0.956" stop-color="#a1a1a1"/></linearGradient>
<linearGradient id="o24" gradientUnits="userSpaceOnUse" x1="206" x2="432" y1="0" y2="0"><stop offset="0.000" stop-color="#bdbdbd"/><stop offset="0.053" stop-color="#bbbbbb"/><stop offset="0.106" stop-color="#bababa"/><stop offset="0.159" stop-color="#b9b9b9"/><stop offset="0.212" stop-color="#b8b8b8"/><stop offset="0.265" stop-color="#b7b7b7"/><stop offset="0.319" stop-color="#b6b6b6"/><stop offset="0.372" stop-color="#b4b4b4"/><stop offset="0.425" stop-color="#b3b3b3"/><stop offset="0.478" stop-color="#b2b2b2"/><stop offset="0.531" stop-color="#b1b1b1"/><stop offset="0.584" stop-color="#b0b0b0"/><stop offset="0.637" stop-color="#afafaf"/><stop offset="0.690" stop-color="#aeaeae"/><stop offset="0.743" stop-color="#acacac"/><stop offset="0.796" stop-color="#a9a9a9"/><stop offset="0.850" stop-color="#a6a6a6"/><stop offset="0.903" stop-color="#a3a3a3"/><stop offset="0.956" stop-color="#a0a0a0"/></linearGradient>
<linearGradient id="o25" gradientUnits="userSpaceOnUse" x1="206" x2="432" y1="0" y2="0"><stop offset="0.000" stop-color="#bebebe"/><stop offset="0.053" stop-color="#bbbbbb"/><stop offset="0.106" stop-color="#bababa"/><stop offset="0.159" stop-color="#b9b9b9"/><stop offset="0.212" stop-color="#b8b8b8"/><stop offset="0.265" stop-color="#b7b7b7"/><stop offset="0.319" stop-color="#b6b6b6"/><stop offset="0.372" stop-color="#b4b4b4"/><stop offset="0.425" stop-color="#b3b3b3"/><stop offset="0.478" stop-color="#b2b2b2"/><stop offset="0.531" stop-color="#b1b1b1"/><stop offset="0.584" stop-color="#b0b0b0"/><stop offset="0.637" stop-color="#afafaf"/><stop offset="0.690" stop-color="#adadad"/><stop offset="0.743" stop-color="#ababab"/><stop offset="0.796" stop-color="#a9a9a9"/><stop offset="0.850" stop-color="#a6a6a6"/><stop offset="0.903" stop-color="#a3a3a3"/><stop offset="0.956" stop-color="#9f9f9f"/></linearGradient>
<linearGradient id="o26" gradientUnits="userSpaceOnUse" x1="206" x2="432" y1="0" y2="0"><stop offset="0.000" stop-color="#bebebe"/><stop offset="0.053" stop-color="#bcbcbc"/><stop offset="0.106" stop-color="#bababa"/><stop offset="0.159" stop-color="#bababa"/><stop offset="0.212" stop-color="#b9b9b9"/><stop offset="0.265" stop-color="#b7b7b7"/><stop offset="0.319" stop-color="#b6b6b6"/><stop offset="0.372" stop-color="#b4b4b4"/><stop offset="0.425" stop-color="#b3b3b3"/><stop offset="0.478" stop-color="#b2b2b2"/><stop offset="0.531" stop-color="#b1b1b1"/><stop offset="0.584" stop-color="#b0b0b0"/><stop offset="0.637" stop-color="#afafaf"/><stop offset="0.690" stop-color="#adadad"/><stop offset="0.743" stop-color="#ababab"/><stop offset="0.796" stop-color="#a8a8a8"/><stop offset="0.850" stop-color="#a5a5a5"/><stop offset="0.903" stop-color="#a2a2a2"/><stop offset="0.956" stop-color="#9f9f9f"/></linearGradient>
<linearGradient id="o27" gradientUnits="userSpaceOnUse" x1="206" x2="432" y1="0" y2="0"><stop offset="0.000" stop-color="#bfbfbf"/><stop offset="0.053" stop-color="#bcbcbc"/><stop offset="0.106" stop-color="#bbbbbb"/><stop offset="0.159" stop-color="#bababa"/><stop offset="0.212" stop-color="#b9b9b9"/><stop offset="0.265" stop-color="#b8b8b8"/><stop offset="0.319" stop-color="#b6b6b6"/><stop offset="0.372" stop-color="#b4b4b4"/><stop offset="0.425" stop-color="#b3b3b3"/><stop offset="0.478" stop-color="#b2b2b2"/><stop offset="0.531" stop-color="#b1b1b1"/><stop offset="0.584" stop-color="#b0b0b0"/><stop offset="0.637" stop-color="#aeaeae"/><stop offset="0.690" stop-color="#adadad"/><stop offset="0.743" stop-color="#aaaaaa"/><stop offset="0.796" stop-color="#a8a8a8"/><stop offset="0.850" stop-color="#a4a4a4"/><stop offset="0.903" stop-color="#a1a1a1"/><stop offset="0.956" stop-color="#9e9e9e"/></linearGradient>
<linearGradient id="o28" gradientUnits="userSpaceOnUse" x1="206" x2="432" y1="0" y2="0"><stop offset="0.000" stop-color="#bfbfbf"/><stop offset="0.053" stop-color="#bdbdbd"/><stop offset="0.106" stop-color="#bcbcbc"/><stop offset="0.159" stop-color="#bababa"/><stop offset="0.212" stop-color="#b9b9b9"/><stop offset="0.265" stop-color="#b8b8b8"/><stop offset="0.319" stop-color="#b6b6b6"/><stop offset="0.372" stop-color="#b5b5b5"/><stop offset="0.425" stop-color="#b3b3b3"/><stop offset="0.478" stop-color="#b2b2b2"/><stop offset="0.531" stop-color="#b1b1b1"/><stop offset="0.584" stop-color="#afafaf"/><stop offset="0.637" stop-color="#aeaeae"/><stop offset="0.690" stop-color="#acacac"/><stop offset="0.743" stop-color="#aaaaaa"/><stop offset="0.796" stop-color="#a7a7a7"/><stop offset="0.850" stop-color="#a4a4a4"/><stop offset="0.903" stop-color="#a0a0a0"/><stop offset="0.956" stop-color="#9d9d9d"/></linearGradient>
<linearGradient id="o29" gradientUnits="userSpaceOnUse" x1="206" x2="432" y1="0" y2="0"><stop offset="0.000" stop-color="#c0c0c0"/><stop offset="0.053" stop-color="#bebebe"/><stop offset="0.106" stop-color="#bcbcbc"/><stop offset="0.159" stop-color="#bbbbbb"/><stop offset="0.212" stop-color="#bababa"/><stop offset="0.265" stop-color="#b8b8b8"/><stop offset="0.319" stop-color="#b7b7b7"/><stop offset="0.372" stop-color="#b5b5b5"/><stop offset="0.425" stop-color="#b3b3b3"/><stop offset="0.478" stop-color="#b2b2b2"/><stop offset="0.531" stop-color="#b1b1b1"/><stop offset="0.584" stop-color="#afafaf"/><stop offset="0.637" stop-color="#aeaeae"/><stop offset="0.690" stop-color="#acacac"/><stop offset="0.743" stop-color="#a9a9a9"/><stop offset="0.796" stop-color="#a6a6a6"/><stop offset="0.850" stop-color="#a3a3a3"/><stop offset="0.903" stop-color="#9f9f9f"/><stop offset="0.956" stop-color="#9c9c9c"/></linearGradient>
<linearGradient id="o30" gradientUnits="userSpaceOnUse" x1="206" x2="432" y1="0" y2="0"><stop offset="0.000" stop-color="#c0c0c0"/><stop offset="0.053" stop-color="#bebebe"/><stop offset="0.106" stop-color="#bdbdbd"/><stop offset="0.159" stop-color="#bcbcbc"/><stop offset="0.212" stop-color="#bababa"/><stop offset="0.265" stop-color="#b9b9b9"/><stop offset="0.319" stop-color="#b7b7b7"/><stop offset="0.372" stop-color="#b5b5b5"/><stop offset="0.425" stop-color="#b3b3b3"/><stop offset="0.478" stop-color="#b2b2b2"/><stop offset="0.531" stop-color="#b0b0b0"/><stop offset="0.584" stop-color="#afafaf"/><stop offset="0.637" stop-color="#adadad"/><stop offset="0.690" stop-color="#ababab"/><stop offset="0.743" stop-color="#a9a9a9"/><stop offset="0.796" stop-color="#a6a6a6"/><stop offset="0.850" stop-color="#a2a2a2"/><stop offset="0.903" stop-color="#9f9f9f"/><stop offset="0.956" stop-color="#9c9c9c"/></linearGradient>
<linearGradient id="o31" gradientUnits="userSpaceOnUse" x1="206" x2="432" y1="0" y2="0"><stop offset="0.000" stop-color="#c0c0c0"/><stop offset="0.053" stop-color="#bfbfbf"/><stop offset="0.106" stop-color="#bdbdbd"/><stop offset="0.159" stop-color="#bcbcbc"/><stop offset="0.212" stop-color="#bbbbbb"/><stop offset="0.265" stop-color="#b9b9b9"/><stop offset="0.319" stop-color="#b8b8b8"/><stop offset="0.372" stop-color="#b6b6b6"/><stop offset="0.425" stop-color="#b4b4b4"/><stop offset="0.478" stop-color="#b2b2b2"/><stop offset="0.531" stop-color="#b0b0b0"/><stop offset="0.584" stop-color="#afafaf"/><stop offset="0.637" stop-color="#adadad"/><stop offset="0.690" stop-color="#ababab"/><stop offset="0.743" stop-color="#a8a8a8"/><stop offset="0.796" stop-color="#a5a5a5"/><stop offset="0.850" stop-color="#a1a1a1"/><stop offset="0.903" stop-color="#9e9e9e"/><stop offset="0.956" stop-color="#9b9b9b"/></linearGradient>
<linearGradient id="o32" gradientUnits="userSpaceOnUse" x1="206" x2="432" y1="0" y2="0"><stop offset="0.000" stop-color="#c1c1c1"/><stop offset="0.053" stop-color="#bfbfbf"/><stop offset="0.106" stop-color="#bebebe"/><stop offset="0.159" stop-color="#bdbdbd"/><stop offset="0.212" stop-color="#bbbbbb"/><stop offset="0.265" stop-color="#bababa"/><stop offset="0.319" stop-color="#b8b8b8"/><stop offset="0.372" stop-color="#b6b6b6"/><stop offset="0.425" stop-color="#b4b4b4"/><stop offset="0.478" stop-color="#b2b2b2"/><stop offset="0.531" stop-color="#b0b0b0"/><stop offset="0.584" stop-color="#afafaf"/><stop offset="0.637" stop-color="#adadad"/><stop offset="0.690" stop-color="#ababab"/><stop offset="0.743" stop-color="#a8a8a8"/><stop offset="0.796" stop-color="#a4a4a4"/><stop offset="0.850" stop-color="#a1a1a1"/><stop offset="0.903" stop-color="#9d9d9d"/><stop offset="0.956" stop-color="#9a9a9a"/></linearGradient>
<linearGradient id="o33" gradientUnits="userSpaceOnUse" x1="206" x2="432" y1="0" y2="0"><stop offset="0.000" stop-color="#c1c1c1"/><stop offset="0.053" stop-color="#c0c0c0"/><stop offset="0.106" stop-color="#bfbfbf"/><stop offset="0.159" stop-color="#bdbdbd"/><stop offset="0.212" stop-color="#bcbcbc"/><stop offset="0.265" stop-color="#bababa"/><stop offset="0.319" stop-color="#b8b8b8"/><stop offset="0.372" stop-color="#b6b6b6"/><stop offset="0.425" stop-color="#b4b4b4"/><stop offset="0.478" stop-color="#b2b2b2"/><stop offset="0.531" stop-color="#b0b0b0"/><stop offset="0.584" stop-color="#aeaeae"/><stop offset="0.637" stop-color="#adadad"/><stop offset="0.690" stop-color="#aaaaaa"/><stop offset="0.743" stop-color="#a8a8a8"/><stop offset="0.796" stop-color="#a4a4a4"/><stop offset="0.850" stop-color="#a0a0a0"/><stop offset="0.903" stop-color="#9d9d9d"/><stop offset="0.956" stop-color="#9a9a9a"/></linearGradient>
<linearGradient id="o34" gradientUnits="userSpaceOnUse" x1="206" x2="432" y1="0" y2="0"><stop offset="0.000" stop-color="#c2c2c2"/><stop offset="0.053" stop-color="#c0c0c0"/><stop offset="0.106" stop-color="#bfbfbf"/><stop offset="0.159" stop-color="#bebebe"/><stop offset="0.212" stop-color="#bdbdbd"/><stop offset="0.265" stop-color="#bbbbbb"/><stop offset="0.319" stop-color="#b9b9b9"/><stop offset="0.372" stop-color="#b7b7b7"/><stop offset="0.425" stop-color="#b4b4b4"/><stop offset="0.478" stop-color="#b2b2b2"/><stop offset="0.531" stop-color="#b0b0b0"/><stop offset="0.584" stop-color="#aeaeae"/><stop offset="0.637" stop-color="#acacac"/><stop offset="0.690" stop-color="#aaaaaa"/><stop offset="0.743" stop-color="#a7a7a7"/><stop offset="0.796" stop-color="#a4a4a4"/><stop offset="0.850" stop-color="#a0a0a0"/><stop offset="0.903" stop-color="#9c9c9c"/><stop offset="0.956" stop-color="#999999"/></linearGradient>
<linearGradient id="o35" gradientUnits="userSpaceOnUse" x1="206" x2="432" y1="0" y2="0"><stop offset="0.000" stop-color="#c2c2c2"/><stop offset="0.053" stop-color="#c1c1c1"/><stop offset="0.106" stop-color="#c0c0c0"/><stop offset="0.159" stop-color="#bfbfbf"/><stop offset="0.212" stop-color="#bdbdbd"/><stop offset="0.265" stop-color="#bcbcbc"/><stop offset="0.319" stop-color="#b9b9b9"/><stop offset="0.372" stop-color="#b7b7b7"/><stop offset="0.425" stop-color="#b4b4b4"/><stop offset="0.478" stop-color="#b2b2b2"/><stop offset="0.531" stop-color="#afafaf"/><stop offset="0.584" stop-color="#aeaeae"/><stop offset="0.637" stop-color="#acacac"/><stop offset="0.690" stop-color="#aaaaaa"/><stop offset="0.743" stop-color="#a7a7a7"/><stop offset="0.796" stop-color="#a4a4a4"/><stop offset="0.850" stop-color="#a0a0a0"/><stop offset="0.903" stop-color="#9c9c9c"/><stop offset="0.956" stop-color="#999999"/></linearGradient>
<linearGradient id="o36" gradientUnits="userSpaceOnUse" x1="206" x2="432" y1="0" y2="0"><stop offset="0.000" stop-color="#c2c2c2"/><stop offset="0.053" stop-color="#c1c1c1"/><stop offset="0.106" stop-color="#c0c0c0"/><stop offset="0.159" stop-color="#bfbfbf"/><stop offset="0.212" stop-color="#bebebe"/><stop offset="0.265" stop-color="#bcbcbc"/><stop offset="0.319" stop-color="#bababa"/><stop offset="0.372" stop-color="#b7b7b7"/><stop offset="0.425" stop-color="#b4b4b4"/><stop offset="0.478" stop-color="#b2b2b2"/><stop offset="0.531" stop-color="#afafaf"/><stop offset="0.584" stop-color="#adadad"/><stop offset="0.637" stop-color="#ababab"/><stop offset="0.690" stop-color="#aaaaaa"/><stop offset="0.743" stop-color="#a7a7a7"/><stop offset="0.796" stop-color="#a4a4a4"/><stop offset="0.850" stop-color="#a0a0a0"/><stop offset="0.903" stop-color="#9c9c9c"/><stop offset="0.956" stop-color="#989898"/></linearGradient>
<linearGradient id="o37" gradientUnits="userSpaceOnUse" x1="206" x2="432" y1="0" y2="0"><stop offset="0.000" stop-color="#c3c3c3"/><stop offset="0.053" stop-color="#c2c2c2"/><stop offset="0.106" stop-color="#c1c1c1"/><stop offset="0.159" stop-color="#c0c0c0"/><stop offset="0.212" stop-color="#bfbfbf"/><stop offset="0.265" stop-color="#bdbdbd"/><stop offset="0.319" stop-color="#bababa"/><stop offset="0.372" stop-color="#b8b8b8"/><stop offset="0.425" stop-color="#b5b5b5"/><stop offset="0.478" stop-color="#b2b2b2"/><stop offset="0.531" stop-color="#afafaf"/><stop offset="0.584" stop-color="#adadad"/><stop offset="0.637" stop-color="#ababab"/><stop offset="0.690" stop-color="#a9a9a9"/><stop offset="0.743" stop-color="#a7a7a7"/><stop offset="0.796" stop-color="#a4a4a4"/><stop offset="0.850" stop-color="#a0a0a0"/><stop offset="0.903" stop-color="#9c9c9c"/><stop offset="0.956" stop-color="#989898"/></linearGradient>
<linearGradient id="o38" gradientUnits="userSpaceOnUse" x1="206" x2="432" y1="0" y2="0"><stop offset="0.000" stop-color="#c4c4c4"/><stop offset="0.053" stop-color="#c3c3c3"/><stop offset="0.106" stop-color="#c2c2c2"/><stop offset="0.159" stop-color="#c0c0c0"/><stop offset="0.212" stop-color="#bfbfbf"/><stop offset="0.265" stop-color="#bdbdbd"/><stop offset="0.319" stop-color="#bbbbbb"/><stop offset="0.372" stop-color="#b8b8b8"/><stop offset="0.425" stop-color="#b5b5b5"/><stop offset="0.478" stop-color="#b2b2b2"/><stop offset="0.531" stop-color="#afafaf"/><stop offset="0.584" stop-color="#adadad"/><stop offset="0.637" stop-color="#ababab"/><stop offset="0.690" stop-color="#a9a9a9"/><stop offset="0.743" stop-color="#a7a7a7"/><stop offset="0.796" stop-color="#a4a4a4"/><stop offset="0.850" stop-color="#a0a0a0"/><stop offset="0.903" stop-color="#9b9b9b"/><stop offset="0.956" stop-color="#979797"/></linearGradient>
<linearGradient id="o39" gradientUnits="userSpaceOnUse" x1="206" x2="432" y1="0" y2="0"><stop offset="0.000" stop-color="#c5c5c5"/><stop offset="0.053" stop-color="#c3c3c3"/><stop offset="0.106" stop-color="#c2c2c2"/><stop offset="0.159" stop-color="#c1c1c1"/><stop offset="0.212" stop-color="#c0c0c0"/><stop offset="0.265" stop-color="#bebebe"/><stop offset="0.319" stop-color="#bbbbbb"/><stop offset="0.372" stop-color="#b8b8b8"/><stop offset="0.425" stop-color="#b5b5b5"/><stop offset="0.478" stop-color="#b2b2b2"/><stop offset="0.531" stop-color="#afafaf"/><stop offset="0.584" stop-color="#adadad"/><stop offset="0.637" stop-color="#ababab"/><stop offset="0.690" stop-color="#a9a9a9"/><stop offset="0.743" stop-color="#a7a7a7"/><stop offset="0.796" stop-color="#a4a4a4"/><stop offset="0.850" stop-color="#9f9f9f"/><stop offset="0.903" stop-color="#9b9b9b"/><stop offset="0.956" stop-color="#969696"/></linearGradient>
<linearGradient id="o40" gradientUnits="userSpaceOnUse" x1="206" x2="432" y1="0" y2="0"><stop offset="0.000" stop-color="#c6c6c6"/><stop offset="0.053" stop-color="#c4c4c4"/><stop offset="0.106" stop-color="#c3c3c3"/><stop offset="0.159" stop-color="#c2c2c2"/><stop offset="0.212" stop-color="#c0c0c0"/><stop offset="0.265" stop-color="#bebebe"/><stop offset="0.319" stop-color="#bcbcbc"/><stop offset="0.372" stop-color="#b9b9b9"/><stop offset="0.425" stop-color="#b5b5b5"/><stop offset="0.478" stop-color="#b2b2b2"/><stop offset="0.531" stop-color="#afafaf"/><stop offset="0.584" stop-color="#adadad"/><stop offset="0.637" stop-color="#aaaaaa"/><stop offset="0.690" stop-color="#a8a8a8"/><stop offset="0.743" stop-color="#a6a6a6"/><stop offset="0.796" stop-color="#a3a3a3"/><stop offset="0.850" stop-color="#9f9f9f"/><stop offset="0.903" stop-color="#9a9a9a"/><stop offset="0.956" stop-color="#969696"/></linearGradient>
<linearGradient id="o41" gradientUnits="userSpaceOnUse" x1="206" x2="432" y1="0" y2="0"><stop offset="0.000" stop-color="#c7c7c7"/><stop offset="0.053" stop-color="#c5c5c5"/><stop offset="0.106" stop-color="#c4c4c4"/><stop offset="0.159" stop-color="#c2c2c2"/><stop offset="0.212" stop-color="#c1c1c1"/><stop offset="0.265" stop-color="#bfbfbf"/><stop offset="0.319" stop-color="#bcbcbc"/><stop offset="0.372" stop-color="#b9b9b9"/><stop offset="0.425" stop-color="#b6b6b6"/><stop offset="0.478" stop-color="#b3b3b3"/><stop offset="0.531" stop-color="#b0b0b0"/><stop offset="0.584" stop-color="#adadad"/><stop offset="0.637" stop-color="#aaaaaa"/><stop offset="0.690" stop-color="#a8a8a8"/><stop offset="0.743" stop-color="#a6a6a6"/><stop offset="0.796" stop-color="#a3a3a3"/><stop offset="0.850" stop-color="#9f9f9f"/><stop offset="0.903" stop-color="#999999"/><stop offset="0.956" stop-color="#959595"/></linearGradient>
<linearGradient id="o42" gradientUnits="userSpaceOnUse" x1="206" x2="432" y1="0" y2="0"><stop offset="0.000" stop-color="#c8c8c8"/><stop offset="0.053" stop-color="#c6c6c6"/><stop offset="0.106" stop-color="#c5c5c5"/><stop offset="0.159" stop-color="#c3c3c3"/><stop offset="0.212" stop-color="#c1c1c1"/><stop offset="0.265" stop-color="#bfbfbf"/><stop offset="0.319" stop-color="#bcbcbc"/><stop offset="0.372" stop-color="#b9b9b9"/><stop offset="0.425" stop-color="#b6b6b6"/><stop offset="0.478" stop-color="#b3b3b3"/><stop offset="0.531" stop-color="#b0b0b0"/><stop offset="0.584" stop-color="#adadad"/><stop offset="0.637" stop-color="#aaaaaa"/><stop offset="0.690" stop-color="#a8a8a8"/><stop offset="0.743" stop-color="#a6a6a6"/><stop offset="0.796" stop-color="#a3a3a3"/><stop offset="0.850" stop-color="#9e9e9e"/><stop offset="0.903" stop-color="#999999"/><stop offset="0.956" stop-color="#949494"/></linearGradient>
<linearGradient id="o43" gradientUnits="userSpaceOnUse" x1="206" x2="432" y1="0" y2="0"><stop offset="0.000" stop-color="#c9c9c9"/><stop offset="0.053" stop-color="#c7c7c7"/><stop offset="0.106" stop-color="#c6c6c6"/><stop offset="0.159" stop-color="#c4c4c4"/><stop offset="0.212" stop-color="#c2c2c2"/><stop offset="0.265" stop-color="#c0c0c0"/><stop offset="0.319" stop-color="#bdbdbd"/><stop offset="0.372" stop-color="#bababa"/><stop offset="0.425" stop-color="#b7b7b7"/><stop offset="0.478" stop-color="#b4b4b4"/><stop offset="0.531" stop-color="#b1b1b1"/><stop offset="0.584" stop-color="#adadad"/><stop offset="0.637" stop-color="#aaaaaa"/><stop offset="0.690" stop-color="#a7a7a7"/><stop offset="0.743" stop-color="#a5a5a5"/><stop offset="0.796" stop-color="#a2a2a2"/><stop offset="0.850" stop-color="#9c9c9c"/><stop offset="0.903" stop-color="#979797"/><stop offset="0.956" stop-color="#939393"/></linearGradient>
<linearGradient id="o44" gradientUnits="userSpaceOnUse" x1="206" x2="432" y1="0" y2="0"><stop offset="0.000" stop-color="#cacaca"/><stop offset="0.053" stop-color="#c9c9c9"/><stop offset="0.106" stop-color="#c7c7c7"/><stop offset="0.159" stop-color="#c5c5c5"/><stop offset="0.212" stop-color="#c3c3c3"/><stop offset="0.265" stop-color="#c0c0c0"/><stop offset="0.319" stop-color="#bdbdbd"/><stop offset="0.372" stop-color="#bbbbbb"/><stop offset="0.425" stop-color="#b8b8b8"/><stop offset="0.478" stop-color="#b5b5b5"/><stop offset="0.531" stop-color="#b1b1b1"/><stop offset="0.584" stop-color="#aeaeae"/><stop offset="0.637" stop-color="#aaaaaa"/><stop offset="0.690" stop-color="#a7a7a7"/><stop offset="0.743" stop-color="#a4a4a4"/><stop offset="0.796" stop-color="#a0a0a0"/><stop offset="0.850" stop-color="#9b9b9b"/><stop offset="0.903" stop-color="#969696"/><stop offset="0.956" stop-color="#929292"/></linearGradient>
<linearGradient id="o45" gradientUnits="userSpaceOnUse" x1="206" x2="432" y1="0" y2="0"><stop offset="0.000" stop-color="#cbcbcb"/><stop offset="0.053" stop-color="#cacaca"/><stop offset="0.106" stop-color="#c8c8c8"/><stop offset="0.159" stop-color="#c6c6c6"/><stop offset="0.212" stop-color="#c3c3c3"/><stop offset="0.265" stop-color="#c1c1c1"/><stop offset="0.319" stop-color="#bebebe"/><stop offset="0.372" stop-color="#bbbbbb"/><stop offset="0.425" stop-color="#b8b8b8"/><stop offset="0.478" stop-color="#b5b5b5"/><stop offset="0.531" stop-color="#b2b2b2"/><stop offset="0.584" stop-color="#aeaeae"/><stop offset="0.637" stop-color="#aaaaaa"/><stop offset="0.690" stop-color="#a6a6a6"/><stop offset="0.743" stop-color="#a3a3a3"/><stop offset="0.796" stop-color="#9e9e9e"/><stop offset="0.850" stop-color="#999999"/><stop offset="0.903" stop-color="#949494"/><stop offset="0.956" stop-color="#919191"/></linearGradient>
<linearGradient id="o46" gradientUnits="userSpaceOnUse" x1="206" x2="432" y1="0" y2="0"><stop offset="0.000" stop-color="#cdcdcd"/><stop offset="0.053" stop-color="#cbcbcb"/><stop offset="0.106" stop-color="#c9c9c9"/><stop offset="0.159" stop-color="#c7c7c7"/><stop offset="0.212" stop-color="#c4c4c4"/><stop offset="0.265" stop-color="#c1c1c1"/><stop offset="0.319" stop-color="#bfbfbf"/><stop offset="0.372" stop-color="#bcbcbc"/><stop offset="0.425" stop-color="#b9b9b9"/><stop offset="0.478" stop-color="#b6b6b6"/><stop offset="0.531" stop-color="#b3b3b3"/><stop offset="0.584" stop-color="#aeaeae"/><stop offset="0.637" stop-color="#aaaaaa"/><stop offset="0.690" stop-color="#a5a5a5"/><stop offset="0.743" stop-color="#a1a1a1"/><stop offset="0.796" stop-color="#9c9c9c"/><stop offset="0.850" stop-color="#979797"/><stop offset="0.903" stop-color="#939393"/><stop offset="0.956" stop-color="#8f8f8f"/></linearGradient>
<linearGradient id="o47" gradientUnits="userSpaceOnUse" x1="206" x2="432" y1="0" y2="0"><stop offset="0.000" stop-color="#cecece"/><stop offset="0.053" stop-color="#cccccc"/><stop offset="0.106" stop-color="#cacaca"/><stop offset="0.159" stop-color="#c8c8c8"/><stop offset="0.212" stop-color="#c5c5c5"/><stop offset="0.265" stop-color="#c2c2c2"/><stop offset="0.319" stop-color="#bfbfbf"/><stop offset="0.372" stop-color="#bdbdbd"/><stop offset="0.425" stop-color="#bababa"/><stop offset="0.478" stop-color="#b7b7b7"/><stop offset="0.531" stop-color="#b3b3b3"/><stop offset="0.584" stop-color="#aeaeae"/><stop offset="0.637" stop-color="#a9a9a9"/><stop offset="0.690" stop-color="#a4a4a4"/><stop offset="0.743" stop-color="#9f9f9f"/><stop offset="0.796" stop-color="#9a9a9a"/><stop offset="0.850" stop-color="#959595"/><stop offset="0.903" stop-color="#919191"/><stop offset="0.956" stop-color="#8e8e8e"/></linearGradient>
<linearGradient id="o48" gradientUnits="userSpaceOnUse" x1="206" x2="432" y1="0" y2="0"><stop offset="0.000" stop-color="#cfcfcf"/><stop offset="0.053" stop-color="#cdcdcd"/><stop offset="0.106" stop-color="#cbcbcb"/><stop offset="0.159" stop-color="#c9c9c9"/><stop offset="0.212" stop-color="#c6c6c6"/><stop offset="0.265" stop-color="#c3c3c3"/><stop offset="0.319" stop-color="#c0c0c0"/><stop offset="0.372" stop-color="#bdbdbd"/><stop offset="0.425" stop-color="#bababa"/><stop offset="0.478" stop-color="#b7b7b7"/><stop offset="0.531" stop-color="#b3b3b3"/><stop offset="0.584" stop-color="#aeaeae"/><stop offset="0.637" stop-color="#a8a8a8"/><stop offset="0.690" stop-color="#a2a2a2"/><stop offset="0.743" stop-color="#9c9c9c"/><stop offset="0.796" stop-color="#969696"/><stop offset="0.850" stop-color="#929292"/><stop offset="0.903" stop-color="#909090"/><stop offset="0.956" stop-color="#8e8e8e"/></linearGradient>
<linearGradient id="o49" gradientUnits="userSpaceOnUse" x1="206" x2="432" y1="0" y2="0"><stop offset="0.000" stop-color="#d0d0d0"/><stop offset="0.053" stop-color="#cecece"/><stop offset="0.106" stop-color="#cccccc"/><stop offset="0.159" stop-color="#cacaca"/><stop offset="0.212" stop-color="#c7c7c7"/><stop offset="0.265" stop-color="#c4c4c4"/><stop offset="0.319" stop-color="#c1c1c1"/><stop offset="0.372" stop-color="#bebebe"/><stop offset="0.425" stop-color="#bbbbbb"/><stop offset="0.478" stop-color="#b7b7b7"/><stop offset="0.531" stop-color="#b3b3b3"/><stop offset="0.584" stop-color="#acacac"/><stop offset="0.637" stop-color="#a6a6a6"/><stop offset="0.690" stop-color="#a1a1a1"/><stop offset="0.743" stop-color="#999999"/><stop offset="0.796" stop-color="#939393"/><stop offset="0.850" stop-color="#909090"/><stop offset="0.903" stop-color="#8f8f8f"/><stop offset="0.956" stop-color="#8d8d8d"/></linearGradient>
<linearGradient id="o50" gradientUnits="userSpaceOnUse" x1="206" x2="432" y1="0" y2="0"><stop offset="0.000" stop-color="#d1d1d1"/><stop offset="0.053" stop-color="#cfcfcf"/><stop offset="0.106" stop-color="#cdcdcd"/><stop offset="0.159" stop-color="#cbcbcb"/><stop offset="0.212" stop-color="#c8c8c8"/><stop offset="0.265" stop-color="#c6c6c6"/><stop offset="0.319" stop-color="#c2c2c2"/><stop offset="0.372" stop-color="#bfbfbf"/><stop offset="0.425" stop-color="#bbbbbb"/><stop offset="0.478" stop-color="#b7b7b7"/><stop offset="0.531" stop-color="#b2b2b2"/><stop offset="0.584" stop-color="#ababab"/><stop offset="0.637" stop-color="#a5a5a5"/><stop offset="0.690" stop-color="#9f9f9f"/><stop offset="0.743" stop-color="#969696"/><stop offset="0.796" stop-color="#909090"/><stop offset="0.850" stop-color="#8f8f8f"/><stop offset="0.903" stop-color="#8e8e8e"/><stop offset="0.956" stop-color="#8d8d8d"/></linearGradient>
<linearGradient id="o51" gradientUnits="userSpaceOnUse" x1="206" x2="432" y1="0" y2="0"><stop offset="0.000" stop-color="#d2d2d2"/><stop offset="0.053" stop-color="#d0d0d0"/><stop offset="0.106" stop-color="#cfcfcf"/><stop offset="0.159" stop-color="#cccccc"/><stop offset="0.212" stop-color="#cacaca"/><stop offset="0.265" stop-color="#c7c7c7"/><stop offset="0.319" stop-color="#c4c4c4"/><stop offset="0.372" stop-color="#c0c0c0"/><stop offset="0.425" stop-color="#bcbcbc"/><stop offset="0.478" stop-color="#b7b7b7"/><stop offset="0.531" stop-color="#b1b1b1"/><stop offset="0.584" stop-color="#a9a9a9"/><stop offset="0.637" stop-color="#a2a2a2"/><stop offset="0.690" stop-color="#9e9e9e"/><stop offset="0.743" stop-color="#949494"/><stop offset="0.796" stop-color="#8f8f8f"/><stop offset="0.850" stop-color="#8e8e8e"/><stop offset="0.903" stop-color="#8e8e8e"/><stop offset="0.956" stop-color="#8d8d8d"/></linearGradient>
<linearGradient id="o52" gradientUnits="userSpaceOnUse" x1="206" x2="432" y1="0" y2="0"><stop offset="0.000" stop-color="#d3d3d3"/><stop offset="0.053" stop-color="#d2d2d2"/><stop offset="0.106" stop-color="#d0d0d0"/><stop offset="0.159" stop-color="#cecece"/><stop offset="0.212" stop-color="#cccccc"/><stop offset="0.265" stop-color="#c9c9c9"/><stop offset="0.319" stop-color="#c5c5c5"/><stop offset="0.372" stop-color="#c1c1c1"/><stop offset="0.425" stop-color="#bcbcbc"/><stop offset="0.478" stop-color="#b7b7b7"/><stop offset="0.531" stop-color="#b0b0b0"/><stop offset="0.584" stop-color="#a7a7a7"/><stop offset="0.637" stop-color="#9f9f9f"/><stop offset="0.690" stop-color="#9c9c9c"/><stop offset="0.743" stop-color="#939393"/><stop offset="0.796" stop-color="#8e8e8e"/><stop offset="0.850" stop-color="#8e8e8e"/><stop offset="0.903" stop-color="#8e8e8e"/><stop offset="0.956" stop-color="#8e8e8e"/></linearGradient>
<linearGradient id="o53" gradientUnits="userSpaceOnUse" x1="206" x2="432" y1="0" y2="0"><stop offset="0.000" stop-color="#d4d4d4"/><stop offset="0.053" stop-color="#d3d3d3"/><stop offset="0.106" stop-color="#d1d1d1"/><stop offset="0.159" stop-color="#cfcfcf"/><stop offset="0.212" stop-color="#cdcdcd"/><stop offset="0.265" stop-color="#cbcbcb"/><stop offset="0.319" stop-color="#c6c6c6"/><stop offset="0.372" stop-color="#c2c2c2"/><stop offset="0.425" stop-color="#bdbdbd"/><stop offset="0.478" stop-color="#b8b8b8"/><stop offset="0.531" stop-color="#b0b0b0"/><stop offset="0.584" stop-color="#a6a6a6"/><stop offset="0.637" stop-color="#9b9b9b"/><stop offset="0.690" stop-color="#979797"/><stop offset="0.743" stop-color="#929292"/><stop offset="0.796" stop-color="#8e8e8e"/><stop offset="0.850" stop-color="#8e8e8e"/><stop offset="0.903" stop-color="#8f8f8f"/><stop offset="0.956" stop-color="#8f8f8f"/></linearGradient>
<linearGradient id="o54" gradientUnits="userSpaceOnUse" x1="206" x2="432" y1="0" y2="0"><stop offset="0.000" stop-color="#d5d5d5"/><stop offset="0.053" stop-color="#d4d4d4"/><stop offset="0.106" stop-color="#d3d3d3"/><stop offset="0.159" stop-color="#d1d1d1"/><stop offset="0.212" stop-color="#cfcfcf"/><stop offset="0.265" stop-color="#cccccc"/><stop offset="0.319" stop-color="#c8c8c8"/><stop offset="0.372" stop-color="#c3c3c3"/><stop offset="0.425" stop-color="#bfbfbf"/><stop offset="0.478" stop-color="#bababa"/><stop offset="0.531" stop-color="#b2b2b2"/><stop offset="0.584" stop-color="#a6a6a6"/><stop offset="0.637" stop-color="#9a9a9a"/><stop offset="0.690" stop-color="#949494"/><stop offset="0.743" stop-color="#919191"/><stop offset="0.796" stop-color="#8e8e8e"/><stop offset="0.850" stop-color="#8f8f8f"/><stop offset="0.903" stop-color="#909090"/><stop offset="0.956" stop-color="#909090"/></linearGradient>
<linearGradient id="o55" gradientUnits="userSpaceOnUse" x1="206" x2="432" y1="0" y2="0"><stop offset="0.000" stop-color="#d6d6d6"/><stop offset="0.053" stop-color="#d6d6d6"/><stop offset="0.106" stop-color="#d4d4d4"/><stop offset="0.159" stop-color="#d3d3d3"/><stop offset="0.212" stop-color="#d1d1d1"/><stop offset="0.265" stop-color="#cecece"/><stop offset="0.319" stop-color="#cacaca"/><stop offset="0.372" stop-color="#c5c5c5"/><stop offset="0.425" stop-color="#c1c1c1"/><stop offset="0.478" stop-color="#bcbcbc"/><stop offset="0.531" stop-color="#b3b3b3"/><stop offset="0.584" stop-color="#a7a7a7"/><stop offset="0.637" stop-color="#9b9b9b"/><stop offset="0.690" stop-color="#939393"/><stop offset="0.743" stop-color="#909090"/><stop offset="0.796" stop-color="#8e8e8e"/><stop offset="0.850" stop-color="#8f8f8f"/><stop offset="0.903" stop-color="#919191"/><stop offset="0.956" stop-color="#919191"/></linearGradient>
<linearGradient id="o56" gradientUnits="userSpaceOnUse" x1="206" x2="432" y1="0" y2="0"><stop offset="0.000" stop-color="#d8d8d8"/><stop offset="0.053" stop-color="#d7d7d7"/><stop offset="0.106" stop-color="#d6d6d6"/><stop offset="0.159" stop-color="#d5d5d5"/><stop offset="0.212" stop-color="#d3d3d3"/><stop offset="0.265" stop-color="#d0d0d0"/><stop offset="0.319" stop-color="#cccccc"/><stop offset="0.372" stop-color="#c8c8c8"/><stop offset="0.425" stop-color="#c3c3c3"/><stop offset="0.478" stop-color="#bebebe"/><stop offset="0.531" stop-color="#b4b4b4"/><stop offset="0.584" stop-color="#a7a7a7"/><stop offset="0.637" stop-color="#9b9b9b"/><stop offset="0.690" stop-color="#939393"/><stop offset="0.743" stop-color="#8f8f8f"/><stop offset="0.796" stop-color="#8e8e8e"/><stop offset="0.850" stop-color="#8f8f8f"/><stop offset="0.903" stop-color="#919191"/><stop offset="0.956" stop-color="#919191"/></linearGradient>
<linearGradient id="o57" gradientUnits="userSpaceOnUse" x1="206" x2="432" y1="0" y2="0"><stop offset="0.000" stop-color="#dadada"/><stop offset="0.053" stop-color="#d9d9d9"/><stop offset="0.106" stop-color="#d9d9d9"/><stop offset="0.159" stop-color="#d7d7d7"/><stop offset="0.212" stop-color="#d5d5d5"/><stop offset="0.265" stop-color="#d2d2d2"/><stop offset="0.319" stop-color="#cecece"/><stop offset="0.372" stop-color="#cacaca"/><stop offset="0.425" stop-color="#c6c6c6"/><stop offset="0.478" stop-color="#bfbfbf"/><stop offset="0.531" stop-color="#b4b4b4"/><stop offset="0.584" stop-color="#a7a7a7"/><stop offset="0.637" stop-color="#9a9a9a"/><stop offset="0.690" stop-color="#929292"/><stop offset="0.743" stop-color="#8e8e8e"/><stop offset="0.796" stop-color="#8d8d8d"/><stop offset="0.850" stop-color="#8e8e8e"/><stop offset="0.903" stop-color="#919191"/><stop offset="0.956" stop-color="#919191"/></linearGradient>
<linearGradient id="o58" gradientUnits="userSpaceOnUse" x1="206" x2="432" y1="0" y2="0"><stop offset="0.000" stop-color="#dbdbdb"/><stop offset="0.053" stop-color="#dbdbdb"/><stop offset="0.106" stop-color="#dbdbdb"/><stop offset="0.159" stop-color="#dadada"/><stop offset="0.212" stop-color="#d8d8d8"/><stop offset="0.265" stop-color="#d4d4d4"/><stop offset="0.319" stop-color="#d1d1d1"/><stop offset="0.372" stop-color="#cdcdcd"/><stop offset="0.425" stop-color="#c8c8c8"/><stop offset="0.478" stop-color="#c0c0c0"/><stop offset="0.531" stop-color="#b4b4b4"/><stop offset="0.584" stop-color="#a6a6a6"/><stop offset="0.637" stop-color="#999999"/><stop offset="0.690" stop-color="#919191"/><stop offset="0.743" stop-color="#8d8d8d"/><stop offset="0.796" stop-color="#8c8c8c"/><stop offset="0.850" stop-color="#8e8e8e"/><stop offset="0.903" stop-color="#909090"/><stop offset="0.956" stop-color="#919191"/></linearGradient>
<linearGradient id="o59" gradientUnits="userSpaceOnUse" x1="206" x2="432" y1="0" y2="0"><stop offset="0.000" stop-color="#dddddd"/><stop offset="0.053" stop-color="#dddddd"/><stop offset="0.106" stop-color="#dcdcdc"/><stop offset="0.159" stop-color="#dcdcdc"/><stop offset="0.212" stop-color="#dbdbdb"/><stop offset="0.265" stop-color="#d8d8d8"/><stop offset="0.319" stop-color="#d4d4d4"/><stop offset="0.372" stop-color="#d0d0d0"/><stop offset="0.425" stop-color="#cacaca"/><stop offset="0.478" stop-color="#c2c2c2"/><stop offset="0.531" stop-color="#b5b5b5"/><stop offset="0.584" stop-color="#a5a5a5"/><stop offset="0.637" stop-color="#989898"/><stop offset="0.690" stop-color="#909090"/><stop offset="0.743" stop-color="#8c8c8c"/><stop offset="0.796" stop-color="#8b8b8b"/><stop offset="0.850" stop-color="#8d8d8d"/><stop offset="0.903" stop-color="#8f8f8f"/><stop offset="0.956" stop-color="#909090"/></linearGradient>
<linearGradient id="o60" gradientUnits="userSpaceOnUse" x1="206" x2="432" y1="0" y2="0"><stop offset="0.000" stop-color="#dedede"/><stop offset="0.053" stop-color="#dedede"/><stop offset="0.106" stop-color="#dedede"/><stop offset="0.159" stop-color="#dedede"/><stop offset="0.212" stop-color="#dddddd"/><stop offset="0.265" stop-color="#dbdbdb"/><stop offset="0.319" stop-color="#d7d7d7"/><stop offset="0.372" stop-color="#d3d3d3"/><stop offset="0.425" stop-color="#cdcdcd"/><stop offset="0.478" stop-color="#c4c4c4"/><stop offset="0.531" stop-color="#b6b6b6"/><stop offset="0.584" stop-color="#a4a4a4"/><stop offset="0.637" stop-color="#979797"/><stop offset="0.690" stop-color="#8e8e8e"/><stop offset="0.743" stop-color="#8b8b8b"/><stop offset="0.796" stop-color="#8a8a8a"/><stop offset="0.850" stop-color="#8c8c8c"/><stop offset="0.903" stop-color="#8e8e8e"/><stop offset="0.956" stop-color="#909090"/></linearGradient>
<linearGradient id="o61" gradientUnits="userSpaceOnUse" x1="206" x2="432" y1="0" y2="0"><stop offset="0.000" stop-color="#dedede"/><stop offset="0.053" stop-color="#dfdfdf"/><stop offset="0.106" stop-color="#dfdfdf"/><stop offset="0.159" stop-color="#dfdfdf"/><stop offset="0.212" stop-color="#dedede"/><stop offset="0.265" stop-color="#dddddd"/><stop offset="0.319" stop-color="#dbdbdb"/><stop offset="0.372" stop-color="#d7d7d7"/><stop offset="0.425" stop-color="#d1d1d1"/><stop offset="0.478" stop-color="#c8c8c8"/><stop offset="0.531" stop-color="#b7b7b7"/><stop offset="0.584" stop-color="#a3a3a3"/><stop offset="0.637" stop-color="#959595"/><stop offset="0.690" stop-color="#8e8e8e"/><stop offset="0.743" stop-color="#8a8a8a"/><stop offset="0.796" stop-color="#898989"/><stop offset="0.850" stop-color="#8b8b8b"/><stop offset="0.903" stop-color="#8d8d8d"/><stop offset="0.956" stop-color="#8f8f8f"/></linearGradient>
<linearGradient id="o62" gradientUnits="userSpaceOnUse" x1="206" x2="432" y1="0" y2="0"><stop offset="0.000" stop-color="#dfdfdf"/><stop offset="0.053" stop-color="#e0e0e0"/><stop offset="0.106" stop-color="#e0e0e0"/><stop offset="0.159" stop-color="#e0e0e0"/><stop offset="0.212" stop-color="#e0e0e0"/><stop offset="0.265" stop-color="#dfdfdf"/><stop offset="0.319" stop-color="#dedede"/><stop offset="0.372" stop-color="#dbdbdb"/><stop offset="0.425" stop-color="#d6d6d6"/><stop offset="0.478" stop-color="#cccccc"/><stop offset="0.531" stop-color="#bababa"/><stop offset="0.584" stop-color="#a3a3a3"/><stop offset="0.637" stop-color="#959595"/><stop offset="0.690" stop-color="#8d8d8d"/><stop offset="0.743" stop-color="#898989"/><stop offset="0.796" stop-color="#888888"/><stop offset="0.850" stop-color="#8a8a8a"/><stop offset="0.903" stop-color="#8c8c8c"/><stop offset="0.956" stop-color="#8e8e8e"/></linearGradient>
<linearGradient id="o63" gradientUnits="userSpaceOnUse" x1="206" x2="432" y1="0" y2="0"><stop offset="0.000" stop-color="#e0e0e0"/><stop offset="0.053" stop-color="#e0e0e0"/><stop offset="0.106" stop-color="#e1e1e1"/><stop offset="0.159" stop-color="#e1e1e1"/><stop offset="0.212" stop-color="#e1e1e1"/><stop offset="0.265" stop-color="#e1e1e1"/><stop offset="0.319" stop-color="#e0e0e0"/><stop offset="0.372" stop-color="#dfdfdf"/><stop offset="0.425" stop-color="#dadada"/><stop offset="0.478" stop-color="#d0d0d0"/><stop offset="0.531" stop-color="#bdbdbd"/><stop offset="0.584" stop-color="#a5a5a5"/><stop offset="0.637" stop-color="#969696"/><stop offset="0.690" stop-color="#8d8d8d"/><stop offset="0.743" stop-color="#898989"/><stop offset="0.796" stop-color="#878787"/><stop offset="0.850" stop-color="#898989"/><stop offset="0.903" stop-color="#8b8b8b"/><stop offset="0.956" stop-color="#8d8d8d"/></linearGradient>
<linearGradient id="o64" gradientUnits="userSpaceOnUse" x1="206" x2="432" y1="0" y2="0"><stop offset="0.000" stop-color="#e0e0e0"/><stop offset="0.053" stop-color="#e1e1e1"/><stop offset="0.106" stop-color="#e2e2e2"/><stop offset="0.159" stop-color="#e2e2e2"/><stop offset="0.212" stop-color="#e2e2e2"/><stop offset="0.265" stop-color="#e2e2e2"/><stop offset="0.319" stop-color="#e2e2e2"/><stop offset="0.372" stop-color="#e1e1e1"/><stop offset="0.425" stop-color="#dddddd"/><stop offset="0.478" stop-color="#d4d4d4"/><stop offset="0.531" stop-color="#c0c0c0"/><stop offset="0.584" stop-color="#a8a8a8"/><stop offset="0.637" stop-color="#989898"/><stop offset="0.690" stop-color="#8f8f8f"/><stop offset="0.743" stop-color="#898989"/><stop offset="0.796" stop-color="#878787"/><stop offset="0.850" stop-color="#888888"/><stop offset="0.903" stop-color="#8a8a8a"/><stop offset="0.956" stop-color="#8c8c8c"/></linearGradient>
<linearGradient id="o65" gradientUnits="userSpaceOnUse" x1="206" x2="432" y1="0" y2="0"><stop offset="0.000" stop-color="#e1e1e1"/><stop offset="0.053" stop-color="#e2e2e2"/><stop offset="0.106" stop-color="#e3e3e3"/><stop offset="0.159" stop-color="#e3e3e3"/><stop offset="0.212" stop-color="#e3e3e3"/><stop offset="0.265" stop-color="#e3e3e3"/><stop offset="0.319" stop-color="#e4e4e4"/><stop offset="0.372" stop-color="#e3e3e3"/><stop offset="0.425" stop-color="#e0e0e0"/><stop offset="0.478" stop-color="#d7d7d7"/><stop offset="0.531" stop-color="#c4c4c4"/><stop offset="0.584" stop-color="#ababab"/><stop offset="0.637" stop-color="#9a9a9a"/><stop offset="0.690" stop-color="#919191"/><stop offset="0.743" stop-color="#8a8a8a"/><stop offset="0.796" stop-color="#878787"/><stop offset="0.850" stop-color="#878787"/><stop offset="0.903" stop-color="#898989"/><stop offset="0.956" stop-color="#8c8c8c"/></linearGradient>
<linearGradient id="o66" gradientUnits="userSpaceOnUse" x1="206" x2="432" y1="0" y2="0"><stop offset="0.000" stop-color="#e1e1e1"/><stop offset="0.053" stop-color="#e2e2e2"/><stop offset="0.106" stop-color="#e3e3e3"/><stop offset="0.159" stop-color="#e4e4e4"/><stop offset="0.212" stop-color="#e4e4e4"/><stop offset="0.265" stop-color="#e4e4e4"/><stop offset="0.319" stop-color="#e5e5e5"/><stop offset="0.372" stop-color="#e4e4e4"/><stop offset="0.425" stop-color="#e2e2e2"/><stop offset="0.478" stop-color="#dbdbdb"/><stop offset="0.531" stop-color="#cacaca"/><stop offset="0.584" stop-color="#aeaeae"/><stop offset="0.637" stop-color="#9e9e9e"/><stop offset="0.690" stop-color="#949494"/><stop offset="0.743" stop-color="#8c8c8c"/><stop offset="0.796" stop-color="#878787"/><stop offset="0.850" stop-color="#878787"/><stop offset="0.903" stop-color="#898989"/><stop offset="0.956" stop-color="#8b8b8b"/></linearGradient>
<linearGradient id="o67" gradientUnits="userSpaceOnUse" x1="206" x2="432" y1="0" y2="0"><stop offset="0.000" stop-color="#e1e1e1"/><stop offset="0.053" stop-color="#e2e2e2"/><stop offset="0.106" stop-color="#e3e3e3"/><stop offset="0.159" stop-color="#e4e4e4"/><stop offset="0.212" stop-color="#e5e5e5"/><stop offset="0.265" stop-color="#e5e5e5"/><stop offset="0.319" stop-color="#e5e5e5"/><stop offset="0.372" stop-color="#e5e5e5"/><stop offset="0.425" stop-color="#e3e3e3"/><stop offset="0.478" stop-color="#dedede"/><stop offset="0.531" stop-color="#cfcfcf"/><stop offset="0.584" stop-color="#b2b2b2"/><stop offset="0.637" stop-color="#a3a3a3"/><stop offset="0.690" stop-color="#989898"/><stop offset="0.743" stop-color="#8e8e8e"/><stop offset="0.796" stop-color="#888888"/><stop offset="0.850" stop-color="#878787"/><stop offset="0.903" stop-color="#898989"/><stop offset="0.956" stop-color="#8b8b8b"/></linearGradient>
<linearGradient id="o68" gradientUnits="userSpaceOnUse" x1="206" x2="432" y1="0" y2="0"><stop offset="0.000" stop-color="#e1e1e1"/><stop offset="0.053" stop-color="#e2e2e2"/><stop offset="0.106" stop-color="#e3e3e3"/><stop offset="0.159" stop-color="#e4e4e4"/><stop offset="0.212" stop-color="#e5e5e5"/><stop offset="0.265" stop-color="#e6e6e6"/><stop offset="0.319" stop-color="#e6e6e6"/><stop offset="0.372" stop-color="#e5e5e5"/><stop offset="0.425" stop-color="#e4e4e4"/><stop offset="0.478" stop-color="#e0e0e0"/><stop offset="0.531" stop-color="#d1d1d1"/><stop offset="0.584" stop-color="#b7b7b7"/><stop offset="0.637" stop-color="#a9a9a9"/><stop offset="0.690" stop-color="#9e9e9e"/><stop offset="0.743" stop-color="#919191"/><stop offset="0.796" stop-color="#898989"/><stop offset="0.850" stop-color="#878787"/><stop offset="0.903" stop-color="#898989"/><stop offset="0.956" stop-color="#8b8b8b"/></linearGradient>
<linearGradient id="o69" gradientUnits="userSpaceOnUse" x1="206" x2="432" y1="0" y2="0"><stop offset="0.000" stop-color="#e2e2e2"/><stop offset="0.053" stop-color="#e2e2e2"/><stop offset="0.106" stop-color="#e3e3e3"/><stop offset="0.159" stop-color="#e4e4e4"/><stop offset="0.212" stop-color="#e5e5e5"/><stop offset="0.265" stop-color="#e6e6e6"/><stop offset="0.319" stop-color="#e6e6e6"/><stop offset="0.372" stop-color="#e5e5e5"/><stop offset="0.425" stop-color="#e3e3e3"/><stop offset="0.478" stop-color="#e2e2e2"/><stop offset="0.531" stop-color="#d4d4d4"/><stop offset="0.584" stop-color="#bebebe"/><stop offset="0.637" stop-color="#b1b1b1"/><stop offset="0.690" stop-color="#a4a4a4"/><stop offset="0.743" stop-color="#949494"/><stop offset="0.796" stop-color="#8a8a8a"/><stop offset="0.850" stop-color="#898989"/><stop offset="0.903" stop-color="#8a8a8a"/><stop offset="0.956" stop-color="#8c8c8c"/></linearGradient>
<linearGradient id="o70" gradientUnits="userSpaceOnUse" x1="206" x2="432" y1="0" y2="0"><stop offset="0.000" stop-color="#e2e2e2"/><stop offset="0.053" stop-color="#e3e3e3"/><stop offset="0.106" stop-color="#e3e3e3"/><stop offset="0.159" stop-color="#e4e4e4"/><stop offset="0.212" stop-color="#e5e5e5"/><stop offset="0.265" stop-color="#e6e6e6"/><stop offset="0.319" stop-color="#e6e6e6"/><stop offset="0.372" stop-color="#e5e5e5"/><stop offset="0.425" stop-color="#e3e3e3"/><stop offset="0.478" stop-color="#e2e2e2"/><stop offset="0.531" stop-color="#d6d6d6"/><stop offset="0.584" stop-color="#c4c4c4"/><stop offset="0.637" stop-color="#b7b7b7"/><stop offset="0.690" stop-color="#a9a9a9"/><stop offset="0.743" stop-color="#989898"/><stop offset="0.796" stop-color="#8d8d8d"/><stop offset="0.850" stop-color="#8b8b8b"/><stop offset="0.903" stop-color="#8b8b8b"/><stop offset="0.956" stop-color="#8d8d8d"/></linearGradient>
<clipPath id="gclip"><path d="M895 236.5 L972 236 L980 650 L745.0 650.0 C742.5 647.7 735.5 639.8 730.0 636.0 C724.5 632.2 717.0 629.2 712.0 627.0 C707.0 624.8 705.3 624.7 700.0 623.0 C694.7 621.3 685.5 618.0 680.0 617.0 C674.5 616.0 667.7 615.7 667.0 617.0 C666.3 618.3 676.3 622.3 676.0 625.0 C675.7 627.7 670.2 631.0 665.0 633.0 C659.8 635.0 651.7 636.5 645.0 637.0 C638.3 637.5 631.2 636.8 625.0 636.0 C618.8 635.2 612.8 633.5 608.0 632.0 C603.2 630.5 599.8 629.0 596.0 627.0 C592.2 625.0 589.3 622.5 585.0 620.0 C580.7 617.5 574.8 613.8 570.0 612.0 C565.2 610.2 561.3 607.7 556.0 609.0 C550.7 610.3 544.8 616.8 538.0 620.0 C531.2 623.2 522.2 627.2 515.0 628.5 C507.8 629.8 500.8 628.2 495.0 628.0 C489.2 627.8 485.2 628.3 480.0 627.0 C474.8 625.7 469.0 621.8 464.0 620.0 C459.0 618.2 454.5 616.8 450.0 616.0 C445.5 615.2 441.2 613.7 437.0 615.0 C432.8 616.3 429.5 623.7 425.0 624.0 C420.5 624.3 415.0 617.8 410.0 617.0 C405.0 616.2 400.0 618.2 395.0 619.0 C390.0 619.8 385.5 622.2 380.0 622.0 C374.5 621.8 367.8 620.5 362.0 618.0 C356.2 615.5 349.1 611.3 345.0 607.0 C340.9 602.7 338.4 597.2 337.6 592.0 C336.9 586.8 338.3 581.5 340.5 576.0 C342.7 570.5 346.4 563.4 351.0 559.0 C355.6 554.6 362.0 552.6 368.0 549.6 C374.0 546.6 382.5 544.8 387.0 541.0 C391.5 537.2 392.3 531.8 395.0 527.0 C397.7 522.2 401.7 514.5 403.0 512.0 L404.0 511.0 C406.7 510.2 412.5 507.8 420.0 506.0 C427.5 504.2 442.0 502.0 449.0 500.0 C456.0 498.0 458.2 497.3 462.0 494.0 C465.8 490.7 465.7 483.3 472.0 480.0 C478.3 476.7 493.3 475.8 500.0 474.0 C506.7 472.2 508.2 471.7 512.0 469.0 C515.8 466.3 518.0 461.8 523.0 458.0 C528.0 454.2 536.2 450.2 542.0 446.0 C547.8 441.8 553.3 436.7 558.0 433.0 C562.7 429.3 565.7 427.0 570.0 424.0 C574.3 421.0 579.3 417.0 584.0 415.0 C588.7 413.0 594.3 413.3 598.0 412.0 C601.7 410.7 603.7 408.8 606.0 407.0 C608.3 405.2 608.0 403.5 612.0 401.0 C616.0 398.5 624.5 394.8 630.0 392.0 C635.5 389.2 641.3 386.5 645.0 384.0 C648.7 381.5 645.7 381.2 652.0 377.0 C658.3 372.8 672.7 365.1 683.0 359.0 C693.3 352.9 704.5 346.0 714.0 340.5 C723.5 335.0 722.8 335.8 740.0 326.0 C757.2 316.2 791.2 296.9 817.0 282.0 C842.8 267.1 882.0 244.1 895.0 236.5 Z"/></clipPath>
<clipPath id="domeclip"><rect x="690" y="520" width="180" height="62"/></clipPath>
</defs>
<g clip-path="url(#plot)">
<g filter="url(#cm)">
<rect x="200" y="180" width="780" height="470" fill="url(#gbot)"/>
<g filter="url(#b2)"><rect x="200" y="224" width="232" height="7" fill="url(#o0)"/>
<rect x="200" y="230" width="232" height="7" fill="url(#o1)"/>
<rect x="200" y="236" width="232" height="7" fill="url(#o2)"/>
<rect x="200" y="242" width="232" height="7" fill="url(#o3)"/>
<rect x="200" y="248" width="232" height="7" fill="url(#o4)"/>
<rect x="200" y="254" width="232" height="7" fill="url(#o5)"/>
<rect x="200" y="260" width="232" height="7" fill="url(#o6)"/>
<rect x="200" y="266" width="232" height="7" fill="url(#o7)"/>
<rect x="200" y="272" width="232" height="7" fill="url(#o8)"/>
<rect x="200" y="278" width="232" height="7" fill="url(#o9)"/>
<rect x="200" y="284" width="232" height="7" fill="url(#o10)"/>
<rect x="200" y="290" width="232" height="7" fill="url(#o11)"/>
<rect x="200" y="296" width="232" height="7" fill="url(#o12)"/>
<rect x="200" y="302" width="232" height="7" fill="url(#o13)"/>
<rect x="200" y="308" width="232" height="7" fill="url(#o14)"/>
<rect x="200" y="314" width="232" height="7" fill="url(#o15)"/>
<rect x="200" y="320" width="232" height="7" fill="url(#o16)"/>
<rect x="200" y="326" width="232" height="7" fill="url(#o17)"/>
<rect x="200" y="332" width="232" height="7" fill="url(#o18)"/>
<rect x="200" y="338" width="232" height="7" fill="url(#o19)"/>
<rect x="200" y="344" width="232" height="7" fill="url(#o20)"/>
<rect x="200" y="350" width="232" height="7" fill="url(#o21)"/>
<rect x="200" y="356" width="232" height="7" fill="url(#o22)"/>
<rect x="200" y="362" width="232" height="7" fill="url(#o23)"/>
<rect x="200" y="368" width="232" height="7" fill="url(#o24)"/>
<rect x="200" y="374" width="232" height="7" fill="url(#o25)"/>
<rect x="200" y="380" width="232" height="7" fill="url(#o26)"/>
<rect x="200" y="386" width="232" height="7" fill="url(#o27)"/>
<rect x="200" y="392" width="232" height="7" fill="url(#o28)"/>
<rect x="200" y="398" width="232" height="7" fill="url(#o29)"/>
<rect x="200" y="404" width="232" height="7" fill="url(#o30)"/>
<rect x="200" y="410" width="232" height="7" fill="url(#o31)"/>
<rect x="200" y="416" width="232" height="7" fill="url(#o32)"/>
<rect x="200" y="422" width="232" height="7" fill="url(#o33)"/>
<rect x="200" y="428" width="232" height="7" fill="url(#o34)"/>
<rect x="200" y="434" width="232" height="7" fill="url(#o35)"/>
<rect x="200" y="440" width="232" height="7" fill="url(#o36)"/>
<rect x="200" y="446" width="232" height="7" fill="url(#o37)"/>
<rect x="200" y="452" width="232" height="7" fill="url(#o38)"/>
<rect x="200" y="458" width="232" height="7" fill="url(#o39)"/>
<rect x="200" y="464" width="232" height="7" fill="url(#o40)"/>
<rect x="200" y="470" width="232" height="7" fill="url(#o41)"/>
<rect x="200" y="476" width="232" height="7" fill="url(#o42)"/>
<rect x="200" y="482" width="232" height="7" fill="url(#o43)"/>
<rect x="200" y="488" width="232" height="7" fill="url(#o44)"/>
<rect x="200" y="494" width="232" height="7" fill="url(#o45)"/>
<rect x="200" y="500" width="232" height="7" fill="url(#o46)"/>
<rect x="200" y="506" width="232" height="7" fill="url(#o47)"/>
<rect x="200" y="512" width="232" height="7" fill="url(#o48)"/>
<rect x="200" y="518" width="232" height="7" fill="url(#o49)"/>
<rect x="200" y="524" width="232" height="7" fill="url(#o50)"/>
<rect x="200" y="530" width="232" height="7" fill="url(#o51)"/>
<rect x="200" y="536" width="232" height="7" fill="url(#o52)"/>
<rect x="200" y="542" width="232" height="7" fill="url(#o53)"/>
<rect x="200" y="548" width="232" height="7" fill="url(#o54)"/>
<rect x="200" y="554" width="232" height="7" fill="url(#o55)"/>
<rect x="200" y="560" width="232" height="7" fill="url(#o56)"/>
<rect x="200" y="566" width="232" height="7" fill="url(#o57)"/>
<rect x="200" y="572" width="232" height="7" fill="url(#o58)"/>
<rect x="200" y="578" width="232" height="7" fill="url(#o59)"/>
<rect x="200" y="584" width="232" height="7" fill="url(#o60)"/>
<rect x="200" y="590" width="232" height="7" fill="url(#o61)"/>
<rect x="200" y="596" width="232" height="7" fill="url(#o62)"/>
<rect x="200" y="602" width="232" height="7" fill="url(#o63)"/>
<rect x="200" y="608" width="232" height="7" fill="url(#o64)"/>
<rect x="200" y="614" width="232" height="7" fill="url(#o65)"/>
<rect x="200" y="620" width="232" height="7" fill="url(#o66)"/>
<rect x="200" y="626" width="232" height="7" fill="url(#o67)"/>
<rect x="200" y="632" width="232" height="7" fill="url(#o68)"/>
<rect x="200" y="638" width="232" height="7" fill="url(#o69)"/>
<rect x="200" y="644" width="232" height="7" fill="url(#o70)"/></g>
<path d="M237.5 238 L456 234 L896 235.5 L895.0 236.5 C882.0 244.1 842.8 267.1 817.0 282.0 C791.2 296.9 757.2 316.2 740.0 326.0 C722.8 335.8 723.5 335.0 714.0 340.5 C704.5 346.0 693.3 352.9 683.0 359.0 C672.7 365.1 658.3 372.8 652.0 377.0 C645.7 381.2 648.7 381.5 645.0 384.0 C641.3 386.5 635.5 389.2 630.0 392.0 C624.5 394.8 616.0 398.5 612.0 401.0 C608.0 403.5 608.3 405.2 606.0 407.0 C603.7 408.8 601.7 410.7 598.0 412.0 C594.3 413.3 588.7 413.0 584.0 415.0 C579.3 417.0 574.3 421.0 570.0 424.0 C565.7 427.0 562.7 429.3 558.0 433.0 C553.3 436.7 547.8 441.8 542.0 446.0 C536.2 450.2 528.0 454.2 523.0 458.0 C518.0 461.8 515.8 466.3 512.0 469.0 C508.2 471.7 506.7 472.2 500.0 474.0 C493.3 475.8 478.3 476.7 472.0 480.0 C465.7 483.3 465.8 490.7 462.0 494.0 C458.2 497.3 456.0 498.0 449.0 500.0 C442.0 502.0 427.5 504.2 420.0 506.0 C412.5 507.8 406.7 510.2 404.0 511.0 L403.6 512.0 C401.3 505.1 394.4 483.4 389.8 470.6 C385.2 457.8 380.9 446.2 376.0 435.0 C371.1 423.8 366.1 414.8 360.2 403.6 C354.3 392.4 347.7 379.8 340.5 368.0 C333.3 356.2 324.7 343.8 316.8 332.6 C308.9 321.4 301.0 310.9 293.1 301.0 C285.2 291.1 278.7 283.9 269.4 273.4 C260.1 262.9 242.8 243.9 237.5 238.0 Z" fill="url(#gy)"/>
<path d="M237.5 238.0 C242.8 243.9 260.1 262.9 269.4 273.4 C278.7 283.9 285.2 291.1 293.1 301.0 C301.0 310.9 308.9 321.4 316.8 332.6 C324.7 343.8 333.3 356.2 340.5 368.0 C347.7 379.8 354.3 392.4 360.2 403.6 C366.1 414.8 371.1 423.8 376.0 435.0 C380.9 446.2 385.2 457.8 389.8 470.6 C394.4 483.4 401.3 505.1 403.6 512.0" fill="none" stroke="#939393" stroke-width="0.9"/>
<g filter="url(#b6)">
<ellipse cx="500" cy="440" rx="16" ry="12" fill="#858585"/>
<ellipse cx="553" cy="415" rx="12" ry="9" fill="#858585"/>
<ellipse cx="450" cy="470" rx="10" ry="8" fill="#858585"/>
<ellipse cx="490" cy="466" rx="13" ry="9" fill="#929292"/>
<ellipse cx="543" cy="436" rx="10" ry="7" fill="#929292"/>
<ellipse cx="430" cy="492" rx="13" ry="9" fill="#929292"/>
<ellipse cx="590" cy="410" rx="8" ry="5" fill="#929292"/>
</g>
<g filter="url(#b6)"><ellipse cx="583" cy="630" rx="22" ry="10" fill="#989898"/></g>
<g filter="url(#b3)"><path d="M437.0 615.0 C435.0 616.5 429.5 623.7 425.0 624.0 C420.5 624.3 415.0 617.8 410.0 617.0 C405.0 616.2 400.0 618.2 395.0 619.0 C390.0 619.8 385.5 622.2 380.0 622.0 C374.5 621.8 367.8 620.5 362.0 618.0 C356.2 615.5 349.1 611.3 345.0 607.0 C340.9 602.7 338.4 597.2 337.6 592.0 C336.9 586.8 338.3 581.5 340.5 576.0 C342.7 570.5 346.4 563.4 351.0 559.0 C355.6 554.6 362.0 552.6 368.0 549.6 C374.0 546.6 382.5 544.8 387.0 541.0 C391.5 537.2 392.3 531.8 395.0 527.0 C397.7 522.2 401.7 514.5 403.0 512.0" fill="none" stroke="#959595" stroke-width="14" stroke-linejoin="round"/></g>
<g filter="url(#b1)"><path d="M895 236.5 L972 236 L980 650 L745.0 650.0 C742.5 647.7 735.5 639.8 730.0 636.0 C724.5 632.2 717.0 629.2 712.0 627.0 C707.0 624.8 705.3 624.7 700.0 623.0 C694.7 621.3 685.5 618.0 680.0 617.0 C674.5 616.0 667.7 615.7 667.0 617.0 C666.3 618.3 676.3 622.3 676.0 625.0 C675.7 627.7 670.2 631.0 665.0 633.0 C659.8 635.0 651.7 636.5 645.0 637.0 C638.3 637.5 631.2 636.8 625.0 636.0 C618.8 635.2 612.8 633.5 608.0 632.0 C603.2 630.5 599.8 629.0 596.0 627.0 C592.2 625.0 589.3 622.5 585.0 620.0 C580.7 617.5 574.8 613.8 570.0 612.0 C565.2 610.2 561.3 607.7 556.0 609.0 C550.7 610.3 544.8 616.8 538.0 620.0 C531.2 623.2 522.2 627.2 515.0 628.5 C507.8 629.8 500.8 628.2 495.0 628.0 C489.2 627.8 485.2 628.3 480.0 627.0 C474.8 625.7 469.0 621.8 464.0 620.0 C459.0 618.2 454.5 616.8 450.0 616.0 C445.5 615.2 441.2 613.7 437.0 615.0 C432.8 616.3 429.5 623.7 425.0 624.0 C420.5 624.3 415.0 617.8 410.0 617.0 C405.0 616.2 400.0 618.2 395.0 619.0 C390.0 619.8 385.5 622.2 380.0 622.0 C374.5 621.8 367.8 620.5 362.0 618.0 C356.2 615.5 349.1 611.3 345.0 607.0 C340.9 602.7 338.4 597.2 337.6 592.0 C336.9 586.8 338.3 581.5 340.5 576.0 C342.7 570.5 346.4 563.4 351.0 559.0 C355.6 554.6 362.0 552.6 368.0 549.6 C374.0 546.6 382.5 544.8 387.0 541.0 C391.5 537.2 392.3 531.8 395.0 527.0 C397.7 522.2 401.7 514.5 403.0 512.0 L404.0 511.0 C406.7 510.2 412.5 507.8 420.0 506.0 C427.5 504.2 442.0 502.0 449.0 500.0 C456.0 498.0 458.2 497.3 462.0 494.0 C465.8 490.7 465.7 483.3 472.0 480.0 C478.3 476.7 493.3 475.8 500.0 474.0 C506.7 472.2 508.2 471.7 512.0 469.0 C515.8 466.3 518.0 461.8 523.0 458.0 C528.0 454.2 536.2 450.2 542.0 446.0 C547.8 441.8 553.3 436.7 558.0 433.0 C562.7 429.3 565.7 427.0 570.0 424.0 C574.3 421.0 579.3 417.0 584.0 415.0 C588.7 413.0 594.3 413.3 598.0 412.0 C601.7 410.7 603.7 408.8 606.0 407.0 C608.3 405.2 608.0 403.5 612.0 401.0 C616.0 398.5 624.5 394.8 630.0 392.0 C635.5 389.2 641.3 386.5 645.0 384.0 C648.7 381.5 645.7 381.2 652.0 377.0 C658.3 372.8 672.7 365.1 683.0 359.0 C693.3 352.9 704.5 346.0 714.0 340.5 C723.5 335.0 722.8 335.8 740.0 326.0 C757.2 316.2 791.2 296.9 817.0 282.0 C842.8 267.1 882.0 244.1 895.0 236.5 Z" fill="url(#gg)" stroke="#6f6f6f" stroke-width="2.8" stroke-linejoin="round"/></g>
<ellipse cx="500" cy="560" rx="150" ry="70" fill="url(#gblob)"/>
<g clip-path="url(#gclip)"><g filter="url(#b2)"><path d="M437.0 615.0 C435.0 616.5 429.5 623.7 425.0 624.0 C420.5 624.3 415.0 617.8 410.0 617.0 C405.0 616.2 400.0 618.2 395.0 619.0 C390.0 619.8 385.5 622.2 380.0 622.0 C374.5 621.8 367.8 620.5 362.0 618.0 C356.2 615.5 349.1 611.3 345.0 607.0 C340.9 602.7 338.4 597.2 337.6 592.0 C336.9 586.8 338.3 581.5 340.5 576.0 C342.7 570.5 346.4 563.4 351.0 559.0 C355.6 554.6 362.0 552.6 368.0 549.6 C374.0 546.6 382.5 544.8 387.0 541.0 C391.5 537.2 392.3 531.8 395.0 527.0 C397.7 522.2 401.7 514.5 403.0 512.0" fill="none" stroke="#676767" stroke-width="13" stroke-linejoin="round"/></g></g>
<g clip-path="url(#gclip)"><g filter="url(#b15)">
<ellipse cx="406" cy="526" rx="12" ry="6.5" transform="rotate(-55 406 526)" fill="#696969"/>
<ellipse cx="366" cy="608" rx="11" ry="6" transform="rotate(20 366 608)" fill="#686868"/>
<ellipse cx="396" cy="612" rx="13" ry="6" transform="rotate(0 396 612)" fill="#686868"/>
<ellipse cx="428" cy="616" rx="10" ry="5.5" transform="rotate(-10 428 616)" fill="#686868"/>
<ellipse cx="352" cy="575" rx="6" ry="14" transform="rotate(10 352 575)" fill="#686868"/>
</g></g>
<g filter="url(#b6)">
<ellipse cx="478" cy="508" rx="14" ry="7" fill="#555555"/>
<ellipse cx="530" cy="480" rx="12" ry="7" fill="#555555"/>
<ellipse cx="575" cy="450" rx="10" ry="6" fill="#555555"/>
<ellipse cx="420" cy="540" rx="14" ry="10" fill="#555555"/>
</g>
<ellipse cx="776" cy="590" rx="150" ry="200" fill="url(#ghalo)" clip-path="url(#gclip)"/>
<g clip-path="url(#domeclip)"><ellipse cx="778" cy="598" rx="76" ry="60" fill="url(#gdome)"/></g>
<g filter="url(#b10)"><ellipse cx="895" cy="635" rx="28" ry="40" fill="#636363"/></g>
<g filter="url(#b1)">
<ellipse cx="466" cy="488" rx="14.5" ry="9" transform="rotate(-25 466 488)" fill="#5c5c5c" stroke="#717171" stroke-width="2.6"/>
<ellipse cx="462.375" cy="488.9" rx="5.075" ry="2.7" transform="rotate(-25 466 488)" fill="#6a6a6a"/>
<ellipse cx="519" cy="460.5" rx="12.5" ry="7.5" transform="rotate(-30 519 460.5)" fill="#5c5c5c" stroke="#717171" stroke-width="2.6"/>
<ellipse cx="515.875" cy="461.25" rx="4.375" ry="2.25" transform="rotate(-30 519 460.5)" fill="#6a6a6a"/>
<ellipse cx="568" cy="428" rx="10.5" ry="6" transform="rotate(-30 568 428)" fill="#5c5c5c" stroke="#717171" stroke-width="2.6"/>
<ellipse cx="565.375" cy="428.6" rx="3.675" ry="1.8" transform="rotate(-30 568 428)" fill="#6a6a6a"/>
</g>
<g filter="url(#b1)">
<ellipse cx="520" cy="614" rx="28" ry="10" transform="rotate(-8 520 614)" fill="#565656" stroke="#6e6e6e" stroke-width="3"/>
<ellipse cx="645" cy="624" rx="30" ry="10" transform="rotate(-4 645 624)" fill="#585858" stroke="#6e6e6e" stroke-width="3"/>
<ellipse cx="624" cy="623" rx="8" ry="3.5" fill="#6a6a6a"/>
<ellipse cx="498" cy="614" rx="8" ry="3.5" transform="rotate(-10 498 614)" fill="#6a6a6a"/>
</g>
<path d="M742.0 646.0 C741.0 643.0 739.7 633.7 736.0 628.0 C732.3 622.3 723.7 618.3 720.0 612.0 C716.3 605.7 713.3 596.2 714.0 590.0 C714.7 583.8 718.8 579.2 724.0 575.0 C729.2 570.8 736.0 567.3 745.0 565.0 C754.0 562.7 768.0 561.3 778.0 561.0 C788.0 560.7 797.2 561.0 805.0 563.0 C812.8 565.0 817.7 568.7 825.0 573.0 C832.3 577.3 843.0 583.5 849.0 589.0 C855.0 594.5 857.8 600.8 861.0 606.0 C864.2 611.2 866.6 613.3 868.5 620.0 C870.4 626.7 871.8 641.7 872.5 646.0 Z" fill="#525252"/>
<g filter="url(#b3)"><path d="M740 646 L745 636 Q790 630 835 636 L838 646 Z" fill="#646464"/></g>
<g filter="url(#b15)">
<path d="M722.0 578.0 C718.0 582.0 716.0 590.7 716.0 596.0 C716.0 601.3 719.0 606.3 722.0 610.0 C725.0 613.7 733.0 618.7 734.0 618.0 C735.0 617.3 729.5 609.8 728.0 606.0 C726.5 602.2 724.7 599.2 725.0 595.0 C725.3 590.8 727.5 584.8 730.0 581.0 C732.5 577.2 741.3 572.5 740.0 572.0 C738.7 571.5 726.0 574.0 722.0 578.0 Z" fill="#757575"/>
<path d="M775.0 567.0 C780.2 567.5 797.5 567.5 806.0 570.0 C814.5 572.5 821.3 577.0 826.0 582.0 C830.7 587.0 832.7 593.3 834.0 600.0 C835.3 606.7 835.3 614.3 834.0 622.0 C832.7 629.7 827.3 642.0 826.0 646.0" fill="none" stroke="#6c6c6c" stroke-width="6"/>
<path d="M780.0 567.0 C775.8 567.3 762.0 567.7 755.0 569.0 C748.0 570.3 742.3 571.8 738.0 575.0 C733.7 578.2 730.7 583.2 729.0 588.0 C727.3 592.8 726.8 598.7 728.0 604.0 C729.2 609.3 734.7 617.3 736.0 620.0" fill="none" stroke="#666666" stroke-width="4"/>
<path d="M798.0 580.0 C800.3 581.7 808.7 586.0 812.0 590.0 C815.3 594.0 817.7 599.3 818.0 604.0 C818.3 608.7 814.7 615.7 814.0 618.0" fill="none" stroke="#646464" stroke-width="3"/>
</g>
<g filter="url(#b1)"><path d="M812.0 568.0 C816.0 570.0 829.3 575.7 836.0 580.0 C842.7 584.3 847.7 589.0 852.0 594.0 C856.3 599.0 859.2 604.8 862.0 610.0 C864.8 615.2 867.2 619.0 869.0 625.0 C870.8 631.0 878.0 642.5 872.5 646.0 C867.0 649.5 841.4 649.0 836.0 646.0 C830.6 643.0 839.3 634.0 840.0 628.0 C840.7 622.0 841.0 615.7 840.0 610.0 C839.0 604.3 836.7 599.0 834.0 594.0 C831.3 589.0 825.7 582.3 824.0 580.0 Z" fill="url(#gcres)"/></g>
<g filter="url(#b1)"><path d="M760.0 625.0 C756.3 624.5 744.7 624.5 738.0 622.0 C731.3 619.5 724.0 614.7 720.0 610.0 C716.0 605.3 714.2 599.2 714.0 594.0 C713.8 588.8 715.5 583.3 719.0 579.0 C722.5 574.7 729.0 570.7 735.0 568.0 C741.0 565.3 747.8 564.2 755.0 563.0 C762.2 561.8 769.7 561.0 778.0 561.0 C786.3 561.0 797.2 561.0 805.0 563.0 C812.8 565.0 821.7 571.3 825.0 573.0" fill="none" stroke="#707070" stroke-width="5.5"/>
<path d="M825.0 573.0 C829.0 575.7 843.0 583.5 849.0 589.0 C855.0 594.5 857.8 600.8 861.0 606.0 C864.2 611.2 866.6 613.0 868.5 620.0 C870.4 627.0 871.8 643.3 872.5 648.0" fill="none" stroke="#707070" stroke-width="2"/></g>
<g filter="url(#b2)"><ellipse cx="777" cy="597" rx="29" ry="27" fill="none" stroke="#626262" stroke-width="4"/></g>
<ellipse cx="776" cy="597" rx="26" ry="26" fill="url(#gcore)"/>
<ellipse cx="778" cy="630" rx="24" ry="6" fill="url(#glens)"/>
<path d="M206.0 184.0 L934.0 184.0 L896.0 235.0 L456.0 234.0 L237.5 238.0 L206.0 226.5 Z" fill="#545454"/>
<path d="M237.5 238 L456 234 L896 235" fill="none" stroke="#6e6e6e" stroke-width="1"/>
<path d="M934 184 L980 184 L980 650 L932.0 646.0 C931.2 634.7 928.3 592.3 927.0 578.0 C925.7 563.7 925.8 572.8 924.0 560.0 C922.2 547.2 918.2 518.3 916.0 501.0 C913.8 483.7 912.5 471.3 911.0 456.0 C909.5 440.7 908.2 423.3 907.0 409.0 C905.8 394.7 905.8 399.0 904.0 370.0 C902.2 341.0 897.3 257.5 896.0 235.0 Z" fill="#000000"/>
</g>
</g>
<rect x="205.5" y="183.5" width="767.0" height="462.0" fill="none" stroke="#000" stroke-width="1"/>
<path d="M196 228.5H205M196 298.5H205M196 367.5H205M196 437.5H205M196 506.5H205M196 576.5H205M201 187.5H205M201 194.5H205M201 201.5H205M201 208.5H205M201 215.5H205M201 221.5H205M201 235.5H205M201 242.5H205M201 249.5H205M201 256.5H205M201 263.5H205M201 270.5H205M201 277.5H205M201 284.5H205M201 291.5H205M201 305.5H205M201 312.5H205M201 319.5H205M201 326.5H205M201 333.5H205M201 340.5H205M201 347.5H205M201 354.5H205M201 361.5H205M201 374.5H205M201 381.5H205M201 388.5H205M201 395.5H205M201 402.5H205M201 409.5H205M201 416.5H205M201 423.5H205M201 430.5H205M201 444.5H205M201 451.5H205M201 458.5H205M201 465.5H205M201 472.5H205M201 479.5H205M201 486.5H205M201 493.5H205M201 500.5H205M201 513.5H205M201 520.5H205M201 527.5H205M201 534.5H205M201 541.5H205M201 548.5H205M201 555.5H205M201 562.5H205M201 569.5H205M201 583.5H205M201 590.5H205M201 597.5H205M201 604.5H205M201 611.5H205M201 618.5H205M201 625.5H205M201 632.5H205M201 639.5H205M221.5 646V650M238.5 646V650M256.5 646V650M273.5 646V655M291.5 646V650M308.5 646V650M325.5 646V650M343.5 646V650M360.5 646V650M377.5 646V650M395.5 646V650M412.5 646V650M430.5 646V650M447.5 646V655M464.5 646V650M482.5 646V650M499.5 646V650M516.5 646V650M534.5 646V650M551.5 646V650M569.5 646V650M586.5 646V650M603.5 646V650M621.5 646V655M638.5 646V650M655.5 646V650M673.5 646V650M690.5 646V650M708.5 646V650M725.5 646V650M742.5 646V650M760.5 646V650M777.5 646V650M794.5 646V655M812.5 646V650M829.5 646V650M847.5 646V650M864.5 646V650M881.5 646V650M899.5 646V650M916.5 646V650M933.5 646V650M951.5 646V650M968.5 646V655" stroke="#000" stroke-width="1" fill="none"/>
<text x="190.5" y="581.5" text-anchor="end" style="font-family:'Liberation Mono',monospace;font-weight:bold;font-style:italic;font-size:14.5px;fill:#000">2</text>
<text x="190.5" y="511.9" text-anchor="end" style="font-family:'Liberation Mono',monospace;font-weight:bold;font-style:italic;font-size:14.5px;fill:#000">4</text>
<text x="190.5" y="442.3" text-anchor="end" style="font-family:'Liberation Mono',monospace;font-weight:bold;font-style:italic;font-size:14.5px;fill:#000">6</text>
<text x="190.5" y="372.7" text-anchor="end" style="font-family:'Liberation Mono',monospace;font-weight:bold;font-style:italic;font-size:14.5px;fill:#000">8</text>
<text x="190.5" y="303.1" text-anchor="end" style="font-family:'Liberation Mono',monospace;font-weight:bold;font-style:italic;font-size:14.5px;fill:#000">1O</text>
<text x="190.5" y="233.5" text-anchor="end" style="font-family:'Liberation Mono',monospace;font-weight:bold;font-style:italic;font-size:14.5px;fill:#000">12</text>
<text x="246.5" y="670" style="font-family:'Liberation Mono',monospace;font-weight:bold;font-style:italic;font-size:14.5px;fill:#000" textLength="44" lengthAdjust="spacing">O.O7O</text>
<text x="420.2" y="670" style="font-family:'Liberation Mono',monospace;font-weight:bold;font-style:italic;font-size:14.5px;fill:#000" textLength="44" lengthAdjust="spacing">O.O75</text>
<text x="594.0" y="670" style="font-family:'Liberation Mono',monospace;font-weight:bold;font-style:italic;font-size:14.5px;fill:#000" textLength="44" lengthAdjust="spacing">O.O8O</text>
<text x="767.8" y="670" style="font-family:'Liberation Mono',monospace;font-weight:bold;font-style:italic;font-size:14.5px;fill:#000" textLength="44" lengthAdjust="spacing">O.O85</text>
<text x="941.5" y="670" style="font-family:'Liberation Mono',monospace;font-weight:bold;font-style:italic;font-size:14.5px;fill:#000" textLength="44" lengthAdjust="spacing">O.O9O</text>
<text x="561" y="684" style="font-family:'Liberation Mono',monospace;font-weight:bold;font-style:italic;font-size:14.5px;fill:#000" textLength="53" lengthAdjust="spacing">X-Axis</text>
<text x="94" y="416" style="font-family:'Liberation Mono',monospace;font-weight:bold;font-style:italic;font-size:14.5px;fill:#000" textLength="53" lengthAdjust="spacing">Y-Axis</text>
<text x="104" y="432.5" style="font-family:'Liberation Mono',monospace;font-weight:bold;font-style:italic;font-size:14.5px;fill:#000" textLength="69" lengthAdjust="spacing">(x1O^-3)</text>
<text x="50.5" y="86.9" style="font-family:'Liberation Sans',sans-serif;font-size:10.4px;fill:#000" textLength="67" lengthAdjust="spacingAndGlyphs">Pseudocolor</text>
<text x="50.8" y="97.6" style="font-family:'Liberation Sans',sans-serif;font-size:10.4px;fill:#000" textLength="62.4" lengthAdjust="spacingAndGlyphs">Var: Density</text>
<rect x="51" y="103" width="40" height="144.5" fill="url(#cbar)"/>
<text x="103.6" y="107.9" style="font-family:'Liberation Sans',sans-serif;font-size:10.4px;fill:#000" textLength="33.4" lengthAdjust="spacingAndGlyphs">0.1432</text>
<text x="103.6" y="144.1" style="font-family:'Liberation Sans',sans-serif;font-size:10.4px;fill:#000" textLength="33.4" lengthAdjust="spacingAndGlyphs">0.1102</text>
<text x="103.6" y="180.3" style="font-family:'Liberation Sans',sans-serif;font-size:10.4px;fill:#000" textLength="39.5" lengthAdjust="spacingAndGlyphs">0.07721</text>
<text x="103.6" y="216.1" style="font-family:'Liberation Sans',sans-serif;font-size:10.4px;fill:#000" textLength="39.5" lengthAdjust="spacingAndGlyphs">0.04421</text>
<text x="103.6" y="252.5" style="font-family:'Liberation Sans',sans-serif;font-size:10.4px;fill:#000" textLength="39.5" lengthAdjust="spacingAndGlyphs">0.01122</text>
<path d="M91 102.5H101M91 139.5H101M91 175.5H101M91 211.5H101M91 247.5H101" stroke="#000" stroke-width="1"/>
<text x="51.5" y="262.6" style="font-family:'Liberation Sans',sans-serif;font-size:10.4px;fill:#000" textLength="24" lengthAdjust="spacingAndGlyphs">Max:</text>
<text x="82.7" y="262.6" style="font-family:'Liberation Sans',sans-serif;font-size:10.4px;fill:#000" textLength="33.4" lengthAdjust="spacingAndGlyphs">0.1432</text>
<text x="51.5" y="273.5" style="font-family:'Liberation Sans',sans-serif;font-size:10.4px;fill:#000" textLength="21" lengthAdjust="spacingAndGlyphs">Min:</text>
<text x="78.8" y="273.5" style="font-family:'Liberation Sans',sans-serif;font-size:10.4px;fill:#000" textLength="39.3" lengthAdjust="spacingAndGlyphs">0.01122</text>
</svg></body></html>
